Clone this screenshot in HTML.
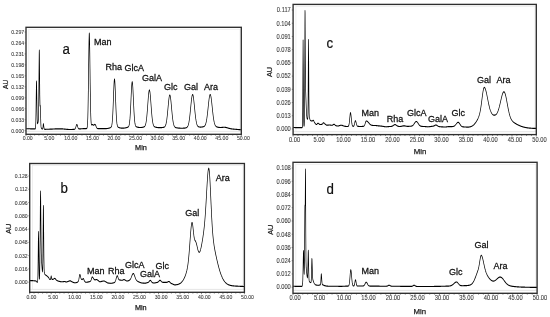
<!DOCTYPE html>
<html><head><meta charset="utf-8"><style>
html,body{margin:0;padding:0;background:#fff;}
body{width:550px;height:317px;overflow:hidden;}
svg{display:block;font-family:"Liberation Sans", sans-serif;filter:grayscale(1);}
</style></head><body>
<svg width="550" height="317" viewBox="0 0 550 317">
<rect width="550" height="317" fill="#fff"/>
<rect x="28.80" y="29.30" width="211.20" height="102.10" fill="none" stroke="#ebebeb" stroke-width="0.8"/>
<line x1="26.00" y1="131.40" x2="241.30" y2="131.40" stroke="#e4e4e4" stroke-width="0.8"/>
<g transform="scale(0.600 1)"><polyline points="43.33,128.70 43.67,128.70 44.00,128.71 44.33,128.71 44.67,128.72 45.00,128.72 45.33,128.73 45.67,128.73 46.00,128.73 46.33,128.74 46.67,128.74 47.00,128.75 47.33,128.75 47.67,128.76 48.00,128.76 48.33,128.77 48.67,128.77 49.00,128.78 49.33,128.78 49.67,128.79 50.00,128.79 50.33,128.80 50.67,128.80 51.00,128.81 51.33,128.81 51.67,128.82 52.00,128.82 52.33,128.83 52.67,128.83 53.00,128.84 53.33,128.84 53.67,128.85 54.00,128.85 54.33,128.86 54.67,128.87 55.00,128.87 55.33,128.88 55.67,128.88 56.00,128.89 56.33,128.89 56.67,128.90 57.00,128.91 57.33,128.91 57.67,128.91 58.00,128.92 58.33,128.91 58.67,128.85 59.00,128.54 59.33,127.10 59.67,122.39 60.00,111.70 60.33,95.92 60.67,83.07 60.83,81.00 61.00,82.64 61.33,94.62 61.67,109.51 62.00,119.28 62.33,123.08 62.67,123.63 63.00,123.16 63.33,122.53 63.67,121.69 64.00,119.40 64.33,112.24 64.67,95.94 65.00,71.90 65.33,52.71 65.50,50.00 65.67,53.15 66.00,72.93 66.33,95.60 66.67,105.89 67.00,105.26 67.17,105.50 67.33,107.52 67.67,115.02 68.00,122.43 68.33,126.38 68.67,127.77 69.00,128.25 69.33,128.51 69.67,128.70 70.00,128.85 70.33,128.97 70.67,129.04 71.00,128.97 71.33,128.42 71.67,126.93 72.00,124.79 72.33,123.70 72.67,124.55 73.00,126.39 73.33,128.01 73.67,128.88 74.00,129.20 74.33,129.28 74.67,129.30 75.00,129.30 75.33,129.30 75.67,129.30 76.00,129.30 76.33,129.30 76.67,129.29 77.00,129.29 77.33,129.29 77.67,129.28 78.00,129.28 78.33,129.28 78.67,129.27 79.00,129.27 79.33,129.26 79.67,129.25 80.00,129.25 80.33,129.24 80.67,129.23 81.00,129.23 81.33,129.22 81.67,129.21 82.00,129.20 82.33,129.20 82.67,129.19 83.00,129.18 83.33,129.17 83.67,129.16 84.00,129.15 84.33,129.14 84.67,129.13 85.00,129.12 85.33,129.11 85.67,129.10 86.00,129.09 86.33,129.08 86.67,129.07 87.00,129.06 87.33,129.05 87.67,129.05 88.00,129.04 88.33,129.03 88.67,129.02 89.00,129.01 89.33,129.00 89.67,128.99 90.00,128.98 90.33,128.97 90.67,128.96 91.00,128.95 91.33,128.94 91.67,128.93 92.00,128.92 92.33,128.91 92.67,128.90 93.00,128.90 93.33,128.89 93.67,128.88 94.00,128.87 94.33,128.87 94.67,128.86 95.00,128.85 95.33,128.85 95.67,128.84 96.00,128.83 96.33,128.83 96.67,128.82 97.00,128.82 97.33,128.82 97.67,128.81 98.00,128.81 98.33,128.81 98.67,128.80 99.00,128.80 99.33,128.80 99.67,128.80 100.00,128.80 100.33,128.80 100.67,128.80 101.00,128.81 101.33,128.81 101.67,128.82 102.00,128.83 102.33,128.84 102.67,128.85 103.00,128.86 103.33,128.87 103.67,128.89 104.00,128.90 104.33,128.92 104.67,128.93 105.00,128.95 105.33,128.97 105.67,128.99 106.00,129.01 106.33,129.03 106.67,129.05 107.00,129.07 107.33,129.09 107.67,129.11 108.00,129.13 108.33,129.15 108.67,129.17 109.00,129.19 109.33,129.21 109.67,129.23 110.00,129.25 110.33,129.27 110.67,129.29 111.00,129.31 111.33,129.33 111.67,129.35 112.00,129.37 112.33,129.38 112.67,129.40 113.00,129.41 113.33,129.43 113.67,129.44 114.00,129.45 114.33,129.46 114.67,129.47 115.00,129.48 115.33,129.49 115.67,129.49 116.00,129.50 116.33,129.50 116.67,129.50 117.00,129.50 117.33,129.50 117.67,129.50 118.00,129.49 118.33,129.49 118.67,129.49 119.00,129.48 119.33,129.47 119.67,129.47 120.00,129.46 120.33,129.45 120.67,129.45 121.00,129.44 121.33,129.43 121.67,129.42 122.00,129.41 122.33,129.39 122.67,129.38 123.00,129.37 123.33,129.35 123.67,129.32 124.00,129.28 124.33,129.21 124.67,129.10 125.00,128.92 125.33,128.65 125.67,128.26 126.00,127.74 126.33,127.10 126.67,126.39 127.00,125.69 127.33,125.08 127.67,124.66 128.00,124.50 128.33,124.63 128.67,125.01 129.00,125.59 129.33,126.26 129.67,126.94 130.00,127.54 130.33,128.03 130.67,128.39 131.00,128.63 131.33,128.78 131.67,128.86 132.00,128.90 132.33,128.91 132.67,128.91 133.00,128.90 133.33,128.88 133.67,128.87 134.00,128.85 134.33,128.84 134.67,128.82 135.00,128.81 135.33,128.79 135.67,128.78 136.00,128.77 136.33,128.75 136.67,128.74 137.00,128.73 137.33,128.72 137.67,128.70 138.00,128.69 138.33,128.68 138.67,128.67 139.00,128.66 139.33,128.65 139.67,128.65 140.00,128.64 140.33,128.63 140.67,128.63 141.00,128.62 141.33,128.61 141.67,128.61 142.00,128.61 142.33,128.60 142.67,128.60 143.00,128.60 143.33,128.60 143.67,128.59 144.00,128.57 144.33,128.52 144.67,128.37 145.00,128.02 145.33,127.25 145.67,125.67 146.00,122.72 146.33,117.70 146.67,109.89 147.00,98.86 147.33,84.86 147.67,69.04 148.00,53.51 148.33,40.98 148.67,33.93 148.83,33.00 149.00,33.90 149.33,40.88 149.67,53.33 150.00,68.72 150.33,84.37 150.67,98.14 151.00,108.86 151.33,116.31 151.67,120.91 152.00,123.39 152.33,124.50 152.67,124.84 153.00,124.81 153.33,124.68 153.67,124.57 154.00,124.54 154.33,124.60 154.67,124.73 155.00,124.88 155.33,125.02 155.67,125.12 156.00,125.14 156.33,125.09 156.67,124.98 157.00,124.82 157.33,124.65 157.67,124.51 158.00,124.43 158.33,124.42 158.67,124.54 159.00,124.80 159.33,125.18 159.67,125.64 160.00,126.15 160.33,126.65 160.67,127.12 161.00,127.53 161.33,127.87 161.67,128.13 162.00,128.32 162.33,128.46 162.67,128.55 163.00,128.61 163.33,128.65 163.67,128.67 164.00,128.68 164.33,128.69 164.67,128.69 165.00,128.69 165.33,128.69 165.67,128.69 166.00,128.69 166.33,128.69 166.67,128.69 167.00,128.68 167.33,128.68 167.67,128.68 168.00,128.68 168.33,128.68 168.67,128.68 169.00,128.68 169.33,128.68 169.67,128.67 170.00,128.67 170.33,128.67 170.67,128.67 171.00,128.67 171.33,128.67 171.67,128.66 172.00,128.66 172.33,128.66 172.67,128.66 173.00,128.66 173.33,128.65 173.67,128.65 174.00,128.65 174.33,128.64 174.67,128.64 175.00,128.63 175.33,128.63 175.67,128.62 176.00,128.61 176.33,128.61 176.67,128.60 177.00,128.58 177.33,128.57 177.67,128.56 178.00,128.54 178.33,128.52 178.67,128.50 179.00,128.47 179.33,128.45 179.67,128.42 180.00,128.38 180.33,128.34 180.67,128.30 181.00,128.25 181.33,128.20 181.67,128.14 182.00,128.08 182.33,128.02 182.67,127.94 183.00,127.87 183.33,127.78 183.67,127.69 184.00,127.59 184.33,127.47 184.67,127.33 185.00,127.14 185.33,126.88 185.67,126.51 186.00,125.97 186.33,125.18 186.67,124.04 187.00,122.43 187.33,120.24 187.67,117.37 188.00,113.75 188.33,109.40 188.67,104.42 189.00,99.05 189.33,93.59 189.67,88.45 190.00,84.09 190.33,80.90 190.67,79.22 190.83,79.00 191.00,79.21 191.33,80.89 191.67,84.06 192.00,88.42 192.33,93.54 192.67,98.99 193.00,104.36 193.33,109.32 193.67,113.66 194.00,117.27 194.33,120.14 194.67,122.32 195.00,123.92 195.33,125.05 195.67,125.83 196.00,126.36 196.33,126.72 196.67,126.97 197.00,127.14 197.33,127.28 197.67,127.39 198.00,127.48 198.33,127.56 198.67,127.64 199.00,127.71 199.33,127.77 199.67,127.83 200.00,127.88 200.33,127.93 200.67,127.97 201.00,128.01 201.33,128.04 201.67,128.07 202.00,128.09 202.33,128.11 202.67,128.13 203.00,128.14 203.33,128.15 203.67,128.15 204.00,128.16 204.33,128.16 204.67,128.15 205.00,128.15 205.33,128.14 205.67,128.13 206.00,128.12 206.33,128.10 206.67,128.08 207.00,128.06 207.33,128.04 207.67,128.01 208.00,127.98 208.33,127.95 208.67,127.92 209.00,127.88 209.33,127.84 209.67,127.80 210.00,127.75 210.33,127.70 210.67,127.65 211.00,127.60 211.33,127.54 211.67,127.47 212.00,127.41 212.33,127.33 212.67,127.25 213.00,127.15 213.33,127.04 213.67,126.89 214.00,126.69 214.33,126.42 214.67,126.03 215.00,125.49 215.33,124.74 215.67,123.70 216.00,122.30 216.33,120.47 216.67,118.15 217.00,115.29 217.33,111.90 217.67,108.02 218.00,103.75 218.33,99.27 218.67,94.80 219.00,90.60 219.33,86.95 219.67,84.12 220.00,82.32 220.33,81.70 220.67,82.31 221.00,84.09 221.33,86.91 221.67,90.54 222.00,94.73 222.33,99.19 222.67,103.66 223.00,107.91 223.33,111.78 223.67,115.16 224.00,118.00 224.33,120.31 224.67,122.13 225.00,123.51 225.33,124.54 225.67,125.28 226.00,125.81 226.33,126.18 226.67,126.44 227.00,126.62 227.33,126.76 227.67,126.86 228.00,126.95 228.33,127.02 228.67,127.08 229.00,127.13 229.33,127.18 229.67,127.23 230.00,127.27 230.33,127.31 230.67,127.35 231.00,127.38 231.33,127.41 231.67,127.43 232.00,127.45 232.33,127.47 232.67,127.49 233.00,127.50 233.33,127.51 233.67,127.51 234.00,127.51 234.33,127.51 234.67,127.50 235.00,127.49 235.33,127.48 235.67,127.47 236.00,127.45 236.33,127.42 236.67,127.40 237.00,127.37 237.33,127.34 237.67,127.30 238.00,127.26 238.33,127.21 238.67,127.16 239.00,127.11 239.33,127.04 239.67,126.96 240.00,126.87 240.33,126.75 240.67,126.61 241.00,126.43 241.33,126.19 241.67,125.89 242.00,125.50 242.33,125.01 242.67,124.39 243.00,123.62 243.33,122.66 243.67,121.50 244.00,120.12 244.33,118.49 244.67,116.62 245.00,114.51 245.33,112.17 245.67,109.64 246.00,106.98 246.33,104.24 246.67,101.51 247.00,98.86 247.33,96.41 247.67,94.25 248.00,92.45 248.33,91.11 248.67,90.28 249.00,90.00 249.33,90.28 249.67,91.11 250.00,92.45 250.33,94.25 250.67,96.41 251.00,98.86 251.33,101.51 251.67,104.24 252.00,106.98 252.33,109.64 252.67,112.17 253.00,114.51 253.33,116.62 253.67,118.49 254.00,120.12 254.33,121.50 254.67,122.66 255.00,123.62 255.33,124.39 255.67,125.01 256.00,125.51 256.33,125.89 256.67,126.19 257.00,126.43 257.33,126.61 257.67,126.76 258.00,126.87 258.33,126.97 258.67,127.05 259.00,127.12 259.33,127.18 259.67,127.23 260.00,127.28 260.33,127.32 260.67,127.36 261.00,127.40 261.33,127.43 261.67,127.46 262.00,127.49 262.33,127.52 262.67,127.54 263.00,127.56 263.33,127.58 263.67,127.60 264.00,127.62 264.33,127.63 264.67,127.64 265.00,127.65 265.33,127.66 265.67,127.66 266.00,127.66 266.33,127.67 266.67,127.67 267.00,127.66 267.33,127.66 267.67,127.65 268.00,127.65 268.33,127.64 268.67,127.63 269.00,127.62 269.33,127.60 269.67,127.59 270.00,127.57 270.33,127.55 270.67,127.53 271.00,127.50 271.33,127.48 271.67,127.44 272.00,127.41 272.33,127.36 272.67,127.31 273.00,127.25 273.33,127.18 273.67,127.08 274.00,126.97 274.33,126.82 274.67,126.63 275.00,126.39 275.33,126.09 275.67,125.71 276.00,125.23 276.33,124.65 276.67,123.94 277.00,123.08 277.33,122.07 277.67,120.88 278.00,119.52 278.33,117.97 278.67,116.25 279.00,114.36 279.33,112.34 279.67,110.21 280.00,108.02 280.33,105.82 280.67,103.67 281.00,101.63 281.33,99.76 281.67,98.13 282.00,96.80 282.33,95.81 282.67,95.20 283.00,95.00 283.33,95.21 283.67,95.83 284.00,96.83 284.33,98.18 284.67,99.82 285.00,101.69 285.33,103.75 285.67,105.91 286.00,108.13 286.33,110.33 286.67,112.47 287.00,114.50 287.33,116.40 287.67,118.13 288.00,119.69 288.33,121.06 288.67,122.26 289.00,123.28 289.33,124.15 289.67,124.87 290.00,125.46 290.33,125.95 290.67,126.34 291.00,126.65 291.33,126.90 291.67,127.10 292.00,127.26 292.33,127.38 292.67,127.49 293.00,127.57 293.33,127.64 293.67,127.70 294.00,127.75 294.33,127.80 294.67,127.84 295.00,127.87 295.33,127.91 295.67,127.94 296.00,127.97 296.33,127.99 296.67,128.02 297.00,128.04 297.33,128.06 297.67,128.08 298.00,128.10 298.33,128.12 298.67,128.13 299.00,128.15 299.33,128.16 299.67,128.17 300.00,128.18 300.33,128.19 300.67,128.20 301.00,128.20 301.33,128.21 301.67,128.21 302.00,128.22 302.33,128.22 302.67,128.22 303.00,128.22 303.33,128.22 303.67,128.22 304.00,128.22 304.33,128.21 304.67,128.21 305.00,128.20 305.33,128.19 305.67,128.18 306.00,128.17 306.33,128.16 306.67,128.15 307.00,128.13 307.33,128.11 307.67,128.09 308.00,128.07 308.33,128.04 308.67,128.01 309.00,127.98 309.33,127.94 309.67,127.89 310.00,127.83 310.33,127.76 310.67,127.68 311.00,127.57 311.33,127.45 311.67,127.29 312.00,127.09 312.33,126.85 312.67,126.56 313.00,126.19 313.33,125.75 313.67,125.21 314.00,124.57 314.33,123.81 314.67,122.91 315.00,121.87 315.33,120.68 315.67,119.33 316.00,117.83 316.33,116.17 316.67,114.38 317.00,112.47 317.33,110.47 317.67,108.40 318.00,106.32 318.33,104.26 318.67,102.28 319.00,100.43 319.33,98.75 319.67,97.30 320.00,96.11 320.33,95.24 320.67,94.69 321.00,94.50 321.33,94.66 321.67,95.18 322.00,96.03 322.33,97.18 322.67,98.60 323.00,100.25 323.33,102.08 323.67,104.03 324.00,106.06 324.33,108.11 324.67,110.15 325.00,112.13 325.33,114.01 325.67,115.78 326.00,117.40 326.33,118.88 326.67,120.20 327.00,121.37 327.33,122.38 327.67,123.25 328.00,123.99 328.33,124.61 328.67,125.12 329.00,125.54 329.33,125.88 329.67,126.15 330.00,126.37 330.33,126.54 330.67,126.67 331.00,126.78 331.33,126.86 331.67,126.92 332.00,126.97 332.33,127.00 332.67,127.03 333.00,127.05 333.33,127.06 333.67,127.07 334.00,127.08 334.33,127.08 334.67,127.07 335.00,127.07 335.33,127.06 335.67,127.04 336.00,127.03 336.33,127.01 336.67,126.99 337.00,126.96 337.33,126.93 337.67,126.90 338.00,126.86 338.33,126.81 338.67,126.76 339.00,126.70 339.33,126.62 339.67,126.53 340.00,126.43 340.33,126.30 340.67,126.14 341.00,125.94 341.33,125.70 341.67,125.41 342.00,125.06 342.33,124.64 342.67,124.13 343.00,123.52 343.33,122.82 343.67,121.99 344.00,121.04 344.33,119.95 344.67,118.73 345.00,117.37 345.33,115.87 345.67,114.25 346.00,112.52 346.33,110.70 346.67,108.82 347.00,106.90 347.33,104.99 347.67,103.12 348.00,101.33 348.33,99.67 348.67,98.18 349.00,96.90 349.33,95.87 349.67,95.11 350.00,94.65 350.33,94.50 350.67,94.67 351.00,95.14 351.33,95.91 351.67,96.96 352.00,98.25 352.33,99.75 352.67,101.42 353.00,103.21 353.33,105.09 353.67,107.01 354.00,108.94 354.33,110.83 354.67,112.65 355.00,114.39 355.33,116.01 355.67,117.51 356.00,118.87 356.33,120.10 356.67,121.19 357.00,122.15 357.33,122.98 357.67,123.69 358.00,124.30 358.33,124.81 358.67,125.24 359.00,125.60 359.33,125.90 359.67,126.14 360.00,126.35 360.33,126.51 360.67,126.65 361.00,126.77 361.33,126.87 361.67,126.95 362.00,127.02 362.33,127.09 362.67,127.14 363.00,127.19 363.33,127.24 363.67,127.28 364.00,127.31 364.33,127.34 364.67,127.37 365.00,127.40 365.33,127.42 365.67,127.44 366.00,127.45 366.33,127.47 366.67,127.48 367.00,127.48 367.33,127.48 367.67,127.48 368.00,127.48 368.33,127.47 368.67,127.46 369.00,127.45 369.33,127.44 369.67,127.42 370.00,127.40 370.33,127.38 370.67,127.37 371.00,127.35 371.33,127.33 371.67,127.31 372.00,127.30 372.33,127.28 372.67,127.27 373.00,127.27 373.33,127.26 373.67,127.26 374.00,127.27 374.33,127.27 374.67,127.29 375.00,127.30 375.33,127.33 375.67,127.35 376.00,127.39 376.33,127.42 376.67,127.46 377.00,127.51 377.33,127.56 377.67,127.61 378.00,127.66 378.33,127.72 378.67,127.78 379.00,127.84 379.33,127.90 379.67,127.97 380.00,128.03 380.33,128.09 380.67,128.15 381.00,128.21 381.33,128.27 381.67,128.33 382.00,128.39 382.33,128.44 382.67,128.50 383.00,128.54 383.33,128.59 383.67,128.64 384.00,128.68 384.33,128.72 384.67,128.76 385.00,128.79 385.33,128.83 385.67,128.86 386.00,128.89 386.33,128.92 386.67,128.95 387.00,128.97 387.33,129.00 387.67,129.02 388.00,129.04 388.33,129.06 388.67,129.08 389.00,129.10 389.33,129.12 389.67,129.14 390.00,129.16 390.33,129.18 390.67,129.20 391.00,129.21 391.33,129.23 391.67,129.25 392.00,129.27 392.33,129.28 392.67,129.30 393.00,129.32 393.33,129.33 393.67,129.35 394.00,129.37 394.33,129.39 394.67,129.40 395.00,129.42 395.33,129.44 395.67,129.45 396.00,129.47 396.33,129.49 396.67,129.51 397.00,129.52 397.33,129.54 397.67,129.56 398.00,129.58 398.33,129.59 398.67,129.61 399.00,129.63 399.33,129.65 399.67,129.67 400.00,129.68 400.33,129.70 400.67,129.72 401.00,129.74 401.33,129.76 401.67,129.77 402.00,129.79" fill="none" stroke="#000" stroke-width="1.15" stroke-linejoin="round"/></g>
<path d="M25.70 32.00h-1.0M25.70 42.97h-1.0M25.70 53.93h-1.0M25.70 64.90h-1.0M25.70 75.87h-1.0M25.70 86.83h-1.0M25.70 97.80h-1.0M25.70 108.77h-1.0M25.70 119.73h-1.0M25.70 130.70h-1.0M26.00 134.60v1.6M30.31 134.60v1.0M34.61 134.60v1.0M38.92 134.60v1.0M43.22 134.60v1.0M47.53 134.60v1.6M51.84 134.60v1.0M56.14 134.60v1.0M60.45 134.60v1.0M64.75 134.60v1.0M69.06 134.60v1.6M73.37 134.60v1.0M77.67 134.60v1.0M81.98 134.60v1.0M86.28 134.60v1.0M90.59 134.60v1.6M94.90 134.60v1.0M99.20 134.60v1.0M103.51 134.60v1.0M107.81 134.60v1.0M112.12 134.60v1.6M116.43 134.60v1.0M120.73 134.60v1.0M125.04 134.60v1.0M129.34 134.60v1.0M133.65 134.60v1.6M137.96 134.60v1.0M142.26 134.60v1.0M146.57 134.60v1.0M150.87 134.60v1.0M155.18 134.60v1.6M159.49 134.60v1.0M163.79 134.60v1.0M168.10 134.60v1.0M172.40 134.60v1.0M176.71 134.60v1.6M181.02 134.60v1.0M185.32 134.60v1.0M189.63 134.60v1.0M193.93 134.60v1.0M198.24 134.60v1.6M202.55 134.60v1.0M206.85 134.60v1.0M211.16 134.60v1.0M215.46 134.60v1.0M219.77 134.60v1.6M224.08 134.60v1.0M228.38 134.60v1.0M232.69 134.60v1.0M236.99 134.60v1.0M241.30 134.60v1.6" stroke="#555" stroke-width="0.7" fill="none"/>
<rect x="26.00" y="27.30" width="215.30" height="107.00" fill="none" stroke="#2e2e2e" stroke-width="1.35"/>
<text transform="translate(24.20 34.06) scale(1 1.1)" font-size="5.20" text-anchor="end" fill="#404040" stroke="#404040" stroke-width="0.08">0.297</text>
<text transform="translate(24.20 45.03) scale(1 1.1)" font-size="5.20" text-anchor="end" fill="#404040" stroke="#404040" stroke-width="0.08">0.264</text>
<text transform="translate(24.20 55.99) scale(1 1.1)" font-size="5.20" text-anchor="end" fill="#404040" stroke="#404040" stroke-width="0.08">0.231</text>
<text transform="translate(24.20 66.96) scale(1 1.1)" font-size="5.20" text-anchor="end" fill="#404040" stroke="#404040" stroke-width="0.08">0.198</text>
<text transform="translate(24.20 77.93) scale(1 1.1)" font-size="5.20" text-anchor="end" fill="#404040" stroke="#404040" stroke-width="0.08">0.165</text>
<text transform="translate(24.20 88.89) scale(1 1.1)" font-size="5.20" text-anchor="end" fill="#404040" stroke="#404040" stroke-width="0.08">0.132</text>
<text transform="translate(24.20 99.86) scale(1 1.1)" font-size="5.20" text-anchor="end" fill="#404040" stroke="#404040" stroke-width="0.08">0.099</text>
<text transform="translate(24.20 110.83) scale(1 1.1)" font-size="5.20" text-anchor="end" fill="#404040" stroke="#404040" stroke-width="0.08">0.066</text>
<text transform="translate(24.20 121.79) scale(1 1.1)" font-size="5.20" text-anchor="end" fill="#404040" stroke="#404040" stroke-width="0.08">0.033</text>
<text transform="translate(24.20 132.76) scale(1 1.1)" font-size="5.20" text-anchor="end" fill="#404040" stroke="#404040" stroke-width="0.08">0.000</text>
<text transform="translate(27.70 140.26) scale(1 1.1)" font-size="5.20" text-anchor="middle" fill="#404040" stroke="#404040" stroke-width="0.08">0.00</text>
<text transform="translate(49.27 140.26) scale(1 1.1)" font-size="5.20" text-anchor="middle" fill="#404040" stroke="#404040" stroke-width="0.08">5.00</text>
<text transform="translate(70.84 140.26) scale(1 1.1)" font-size="5.20" text-anchor="middle" fill="#404040" stroke="#404040" stroke-width="0.08">10.00</text>
<text transform="translate(92.41 140.26) scale(1 1.1)" font-size="5.20" text-anchor="middle" fill="#404040" stroke="#404040" stroke-width="0.08">15.00</text>
<text transform="translate(113.98 140.26) scale(1 1.1)" font-size="5.20" text-anchor="middle" fill="#404040" stroke="#404040" stroke-width="0.08">20.00</text>
<text transform="translate(135.55 140.26) scale(1 1.1)" font-size="5.20" text-anchor="middle" fill="#404040" stroke="#404040" stroke-width="0.08">25.00</text>
<text transform="translate(157.12 140.26) scale(1 1.1)" font-size="5.20" text-anchor="middle" fill="#404040" stroke="#404040" stroke-width="0.08">30.00</text>
<text transform="translate(178.69 140.26) scale(1 1.1)" font-size="5.20" text-anchor="middle" fill="#404040" stroke="#404040" stroke-width="0.08">35.00</text>
<text transform="translate(200.26 140.26) scale(1 1.1)" font-size="5.20" text-anchor="middle" fill="#404040" stroke="#404040" stroke-width="0.08">40.00</text>
<text transform="translate(221.83 140.26) scale(1 1.1)" font-size="5.20" text-anchor="middle" fill="#404040" stroke="#404040" stroke-width="0.08">45.00</text>
<text transform="translate(243.40 140.26) scale(1 1.1)" font-size="5.20" text-anchor="middle" fill="#404040" stroke="#404040" stroke-width="0.08">50.00</text>
<text x="141.00" y="150.00" font-size="7.30" text-anchor="middle" fill="#1a1a1a" stroke="#1a1a1a" stroke-width="0.25">Min</text>
<text transform="translate(8.00 84.40) rotate(-90)" font-size="6.60" text-anchor="middle" fill="#1a1a1a" stroke="#1a1a1a" stroke-width="0.2">AU</text>
<text transform="translate(62.50 53.60) scale(0.95 1.03)" font-size="14" fill="#111" stroke="#111" stroke-width="0.2">a</text>
<text x="94.00" y="45.00" font-size="9" fill="#111" stroke="#111" stroke-width="0.26">Man</text>
<text x="105.50" y="69.80" font-size="9" fill="#111" stroke="#111" stroke-width="0.26">Rha</text>
<text x="124.50" y="70.80" font-size="9" fill="#111" stroke="#111" stroke-width="0.26">GlcA</text>
<text x="142.00" y="80.80" font-size="9" fill="#111" stroke="#111" stroke-width="0.26">GalA</text>
<text x="164.00" y="89.80" font-size="9" fill="#111" stroke="#111" stroke-width="0.26">Glc</text>
<text x="184.00" y="90.20" font-size="9" fill="#111" stroke="#111" stroke-width="0.26">Gal</text>
<text x="204.00" y="90.20" font-size="9" fill="#111" stroke="#111" stroke-width="0.26">Ara</text>
<rect x="32.50" y="165.50" width="210.60" height="123.90" fill="none" stroke="#ebebeb" stroke-width="0.8"/>
<line x1="29.70" y1="289.40" x2="244.40" y2="289.40" stroke="#e4e4e4" stroke-width="0.8"/>
<g transform="scale(0.600 1)"><polyline points="49.50,280.60 49.83,280.60 50.17,280.60 50.50,280.60 50.83,280.60 51.17,280.61 51.50,280.61 51.83,280.62 52.17,280.62 52.50,280.63 52.83,280.63 53.17,280.64 53.50,280.65 53.83,280.66 54.17,280.67 54.50,280.68 54.83,280.69 55.17,280.70 55.50,280.71 55.83,280.73 56.17,280.74 56.50,280.76 56.83,280.78 57.17,280.80 57.50,280.82 57.83,280.84 58.17,280.86 58.50,280.88 58.83,280.91 59.17,280.93 59.50,280.96 59.83,280.99 60.17,281.03 60.50,281.17 60.83,281.40 61.17,281.66 61.50,281.93 61.83,282.16 62.17,282.32 62.50,282.21 62.83,280.93 63.17,275.46 63.50,261.47 63.83,241.73 64.17,231.50 64.50,241.23 64.83,260.51 65.17,274.07 65.50,278.95 65.83,278.73 66.17,273.91 66.50,260.66 66.83,236.16 67.17,207.35 67.50,191.00 67.83,197.59 68.17,219.39 68.33,231.01 68.50,240.92 68.83,253.73 69.17,259.90 69.50,263.47 69.83,266.35 70.17,268.89 70.50,270.92 70.83,271.80 71.17,269.03 71.50,256.94 71.83,232.64 72.17,209.32 72.33,205.50 72.50,209.03 72.83,231.87 73.17,256.02 73.50,268.55 73.83,272.50 74.17,273.54 74.50,274.02 74.83,274.37 75.17,274.60 75.50,274.78 75.83,274.95 76.17,275.09 76.50,275.23 76.83,275.36 77.17,275.49 77.50,275.62 77.83,275.76 78.17,275.92 78.50,276.09 78.83,276.27 79.17,276.45 79.50,276.65 79.83,276.85 80.17,277.06 80.50,277.28 80.83,277.50 81.17,277.77 81.50,278.10 81.83,278.45 82.17,278.80 82.50,279.11 82.83,279.35 83.17,279.48 83.50,279.50 83.83,279.46 84.17,279.26 84.50,278.62 84.83,277.38 85.17,276.19 85.33,276.00 85.50,276.18 85.83,277.34 86.17,278.56 86.50,279.18 86.83,279.35 87.17,279.37 87.50,279.36 87.83,279.34 88.17,279.31 88.50,279.28 88.83,279.20 89.17,279.09 89.50,278.96 89.83,278.81 90.17,278.68 90.50,278.55 90.83,278.46 91.17,278.41 91.50,278.41 91.83,278.52 92.17,278.71 92.50,278.96 92.83,279.24 93.17,279.53 93.50,279.80 93.83,280.03 94.17,280.20 94.50,280.32 94.83,280.44 95.17,280.55 95.50,280.66 95.83,280.76 96.17,280.85 96.50,280.94 96.83,281.02 97.17,281.09 97.50,281.16 97.83,281.22 98.17,281.27 98.50,281.32 98.83,281.37 99.17,281.42 99.50,281.47 99.83,281.52 100.17,281.56 100.50,281.60 100.83,281.64 101.17,281.68 101.50,281.71 101.83,281.74 102.17,281.76 102.50,281.78 102.83,281.79 103.17,281.80 103.50,281.80 103.83,281.79 104.17,281.78 104.50,281.76 104.83,281.74 105.17,281.71 105.50,281.68 105.83,281.65 106.17,281.62 106.50,281.59 106.83,281.56 107.17,281.54 107.50,281.52 107.83,281.51 108.17,281.50 108.50,281.51 108.83,281.61 109.17,281.75 109.50,281.89 109.83,281.99 110.17,282.00 110.50,281.98 110.83,281.95 111.17,281.91 111.50,281.85 111.83,281.79 112.17,281.73 112.50,281.66 112.83,281.59 113.17,281.53 113.50,281.47 113.83,281.39 114.17,281.31 114.50,281.22 114.83,281.12 115.17,281.03 115.50,280.95 115.83,280.88 116.17,280.83 116.50,280.80 116.83,280.81 117.17,280.85 117.50,280.92 117.83,281.02 118.17,281.13 118.50,281.26 118.83,281.40 119.17,281.53 119.50,281.65 119.83,281.76 120.17,281.84 120.50,281.93 120.83,282.01 121.17,282.10 121.50,282.19 121.83,282.28 122.17,282.37 122.50,282.45 122.83,282.53 123.17,282.60 123.50,282.66 123.83,282.71 124.17,282.75 124.50,282.78 124.83,282.80 125.17,282.80 125.50,282.79 125.83,282.77 126.17,282.74 126.50,282.70 126.83,282.66 127.17,282.61 127.50,282.55 127.83,282.49 128.17,282.43 128.50,282.36 128.83,282.26 129.17,282.12 129.50,281.96 129.83,281.78 130.17,281.56 130.50,281.28 130.83,280.83 131.17,280.15 131.50,279.18 131.83,277.96 132.17,276.62 132.50,275.43 132.83,274.66 133.00,274.50 133.17,274.48 133.50,274.78 133.83,275.44 134.17,276.29 134.50,277.17 134.83,277.93 135.17,278.52 135.50,278.93 135.83,279.20 136.17,279.39 136.50,279.52 136.83,279.56 137.17,279.45 137.50,279.27 137.83,279.04 138.17,278.83 138.50,278.66 138.83,278.60 139.17,278.74 139.50,279.11 139.83,279.62 140.17,280.16 140.50,280.65 140.83,281.00 141.17,281.25 141.50,281.49 141.83,281.72 142.17,281.93 142.50,282.10 142.83,282.22 143.17,282.29 143.50,282.30 143.83,282.29 144.17,282.27 144.50,282.25 144.83,282.21 145.17,282.18 145.50,282.14 145.83,282.10 146.17,282.06 146.50,282.02 146.83,281.98 147.17,281.94 147.50,281.90 147.83,281.85 148.17,281.81 148.50,281.76 148.83,281.70 149.17,281.65 149.50,281.59 149.83,281.52 150.17,281.43 150.50,281.31 150.83,281.13 151.17,280.87 151.50,280.50 151.83,280.01 152.17,279.41 152.50,278.73 152.83,278.05 153.17,277.48 153.50,277.10 153.67,277.00 153.83,276.96 154.17,277.00 154.50,277.18 154.83,277.47 155.17,277.81 155.50,278.17 155.83,278.51 156.17,278.81 156.50,279.05 156.83,279.26 157.17,279.45 157.50,279.63 157.83,279.77 158.17,279.86 158.50,279.88 158.83,279.85 159.17,279.79 159.50,279.72 159.83,279.64 160.17,279.57 160.50,279.52 160.83,279.50 161.17,279.53 161.50,279.61 161.83,279.72 162.17,279.87 162.50,280.02 162.83,280.18 163.17,280.33 163.50,280.47 163.83,280.62 164.17,280.80 164.50,280.98 164.83,281.17 165.17,281.35 165.50,281.51 165.83,281.64 166.17,281.74 166.50,281.79 166.83,281.80 167.17,281.78 167.50,281.74 167.83,281.69 168.17,281.63 168.50,281.56 168.83,281.50 169.17,281.43 169.50,281.37 169.83,281.32 170.17,281.28 170.50,281.24 170.83,281.20 171.17,281.16 171.50,281.12 171.83,281.09 172.17,281.05 172.50,281.03 172.83,281.01 173.17,281.00 173.50,281.00 173.83,281.04 174.17,281.11 174.50,281.20 174.83,281.31 175.17,281.44 175.50,281.57 175.83,281.70 176.17,281.83 176.50,281.95 176.83,282.05 177.17,282.16 177.50,282.28 177.83,282.40 178.17,282.52 178.50,282.64 178.83,282.75 179.17,282.84 179.50,282.92 179.83,282.98 180.17,283.02 180.50,283.05 180.83,283.08 181.17,283.11 181.50,283.14 181.83,283.17 182.17,283.19 182.50,283.22 182.83,283.24 183.17,283.25 183.50,283.27 183.83,283.28 184.17,283.29 184.50,283.30 184.83,283.30 185.17,283.30 185.50,283.29 185.83,283.27 186.17,283.25 186.50,283.22 186.83,283.19 187.17,283.15 187.50,283.10 187.83,283.05 188.17,283.00 188.50,282.95 188.83,282.89 189.17,282.83 189.50,282.77 189.83,282.71 190.17,282.63 190.50,282.53 190.83,282.39 191.17,282.21 191.50,281.98 191.83,281.67 192.17,281.28 192.50,280.80 192.83,280.22 193.17,279.56 193.50,278.83 193.83,278.09 194.17,277.36 194.50,276.72 194.83,276.22 195.17,275.89 195.33,275.80 195.50,275.78 195.83,275.96 196.17,276.40 196.50,277.01 196.83,277.67 197.17,278.30 197.50,278.84 197.83,279.25 198.17,279.54 198.50,279.73 198.83,279.85 199.17,279.92 199.50,279.97 199.83,280.00 200.17,280.04 200.50,280.07 200.83,280.10 201.17,280.14 201.50,280.18 201.83,280.21 202.17,280.24 202.50,280.27 202.83,280.29 203.17,280.30 203.50,280.29 203.83,280.26 204.17,280.19 204.50,280.10 204.83,280.00 205.17,279.90 205.50,279.80 205.83,279.71 206.17,279.64 206.50,279.61 206.83,279.60 207.17,279.64 207.50,279.70 207.83,279.79 208.17,279.90 208.50,280.03 208.83,280.16 209.17,280.30 209.50,280.44 209.83,280.57 210.17,280.70 210.50,280.81 210.83,280.90 211.17,280.96 211.50,280.99 211.83,280.99 212.17,280.98 212.50,280.95 212.83,280.92 213.17,280.87 213.50,280.81 213.83,280.75 214.17,280.67 214.50,280.59 214.83,280.49 215.17,280.38 215.50,280.26 215.83,280.11 216.17,279.95 216.50,279.76 216.83,279.54 217.17,279.28 217.50,278.97 217.83,278.61 218.17,278.20 218.50,277.75 218.83,277.27 219.17,276.75 219.50,276.22 219.83,275.69 220.17,275.18 220.50,274.71 220.83,274.29 221.17,273.95 221.50,273.70 221.83,273.54 222.17,273.50 222.50,273.57 222.83,273.77 223.17,274.08 223.50,274.49 223.83,274.98 224.17,275.52 224.50,276.10 224.83,276.69 225.17,277.27 225.50,277.82 225.83,278.33 226.17,278.80 226.50,279.21 226.83,279.57 227.17,279.89 227.50,280.17 227.83,280.42 228.17,280.64 228.50,280.83 228.83,281.00 229.17,281.16 229.50,281.30 229.83,281.43 230.17,281.56 230.50,281.67 230.83,281.77 231.17,281.87 231.50,281.96 231.83,282.03 232.17,282.11 232.50,282.19 232.83,282.27 233.17,282.35 233.50,282.44 233.83,282.52 234.17,282.59 234.50,282.67 234.83,282.74 235.17,282.80 235.50,282.86 235.83,282.91 236.17,282.95 236.50,282.99 236.83,283.01 237.17,283.03 237.50,283.05 237.83,283.07 238.17,283.09 238.50,283.11 238.83,283.13 239.17,283.14 239.50,283.16 239.83,283.17 240.17,283.18 240.50,283.19 240.83,283.19 241.17,283.20 241.50,283.20 241.83,283.20 242.17,283.18 242.50,283.16 242.83,283.12 243.17,283.07 243.50,283.02 243.83,282.96 244.17,282.90 244.50,282.84 244.83,282.78 245.17,282.72 245.50,282.66 245.83,282.60 246.17,282.54 246.50,282.47 246.83,282.40 247.17,282.29 247.50,282.15 247.83,281.97 248.17,281.76 248.50,281.51 248.83,281.24 249.17,280.98 249.50,280.74 249.83,280.55 250.17,280.43 250.50,280.40 250.83,280.46 251.17,280.60 251.50,280.82 251.83,281.08 252.17,281.37 252.50,281.65 252.83,281.92 253.17,282.16 253.50,282.36 253.83,282.52 254.17,282.65 254.50,282.75 254.83,282.83 255.17,282.89 255.50,282.93 255.83,282.96 256.17,282.98 256.50,283.00 256.83,283.00 257.17,282.99 257.50,282.96 257.83,282.94 258.17,282.90 258.50,282.86 258.83,282.81 259.17,282.76 259.50,282.71 259.83,282.67 260.17,282.62 260.50,282.58 260.83,282.54 261.17,282.50 261.50,282.46 261.83,282.43 262.17,282.39 262.50,282.32 262.83,282.24 263.17,282.13 263.50,281.99 263.83,281.82 264.17,281.62 264.50,281.39 264.83,281.16 265.17,280.92 265.50,280.70 265.83,280.52 266.17,280.38 266.50,280.31 266.67,280.30 266.83,280.31 267.17,280.37 267.50,280.50 267.83,280.68 268.17,280.89 268.50,281.12 268.83,281.35 269.17,281.57 269.50,281.76 269.83,281.93 270.17,282.06 270.50,282.16 270.83,282.24 271.17,282.30 271.50,282.33 271.83,282.36 272.17,282.38 272.50,282.39 272.83,282.39 273.17,282.40 273.50,282.40 273.83,282.40 274.17,282.40 274.50,282.40 274.83,282.40 275.17,282.40 275.50,282.40 275.83,282.40 276.17,282.39 276.50,282.39 276.83,282.38 277.17,282.37 277.50,282.36 277.83,282.33 278.17,282.30 278.50,282.25 278.83,282.18 279.17,282.09 279.50,281.98 279.83,281.86 280.17,281.73 280.50,281.62 280.83,281.53 281.17,281.48 281.50,281.48 281.67,281.50 281.83,281.53 282.17,281.64 282.50,281.80 282.83,282.00 283.17,282.22 283.50,282.44 283.83,282.67 284.17,282.87 284.50,283.06 284.83,283.22 285.17,283.35 285.50,283.47 285.83,283.57 286.17,283.65 286.50,283.73 286.83,283.80 287.17,283.87 287.50,283.96 287.83,284.05 288.17,284.15 288.50,284.26 288.83,284.36 289.17,284.46 289.50,284.55 289.83,284.64 290.17,284.72 290.50,284.78 290.83,284.83 291.17,284.86 291.50,284.87 291.83,284.86 292.17,284.84 292.50,284.83 292.83,284.81 293.17,284.78 293.50,284.76 293.83,284.73 294.17,284.70 294.50,284.67 294.83,284.64 295.17,284.60 295.50,284.56 295.83,284.51 296.17,284.46 296.50,284.41 296.83,284.35 297.17,284.29 297.50,284.22 297.83,284.15 298.17,284.06 298.50,283.98 298.83,283.88 299.17,283.78 299.50,283.67 299.83,283.56 300.17,283.43 300.50,283.30 300.83,283.15 301.17,283.00 301.50,282.83 301.83,282.66 302.17,282.47 302.50,282.27 302.83,282.06 303.17,281.84 303.50,281.60 303.83,281.35 304.17,281.08 304.50,280.80 304.83,280.50 305.17,280.19 305.50,279.87 305.83,279.52 306.17,279.16 306.50,278.78 306.83,278.39 307.17,277.97 307.50,277.54 307.83,277.09 308.17,276.61 308.50,276.12 308.83,275.60 309.17,275.06 309.50,274.48 309.83,273.88 310.17,273.24 310.50,272.56 310.83,271.83 311.17,271.05 311.50,270.20 311.83,269.27 312.17,268.25 312.50,267.14 312.83,265.90 313.17,264.54 313.50,263.04 313.83,261.38 314.17,259.56 314.50,257.58 314.83,255.43 315.17,253.11 315.50,250.66 315.83,248.07 316.17,245.39 316.50,242.65 316.83,239.89 317.17,237.17 317.50,234.52 317.83,232.02 318.17,229.72 318.50,227.65 318.83,225.88 319.17,224.43 319.50,223.33 319.68,222.90 319.83,222.62 320.17,222.47 320.50,222.87 320.83,223.76 321.17,225.07 321.50,226.68 321.83,228.49 322.17,230.38 322.50,232.26 322.83,234.04 323.17,235.66 323.50,237.06 323.83,238.23 324.17,239.15 324.50,239.83 324.83,240.28 325.06,240.48 325.17,240.56 325.50,240.81 325.83,241.12 326.17,241.50 326.50,241.97 326.83,242.53 327.17,243.17 327.50,243.90 327.83,244.69 328.17,245.53 328.50,246.39 328.83,247.27 329.17,248.13 329.50,248.95 329.83,249.71 330.17,250.40 330.50,251.00 330.83,251.49 331.17,251.87 331.50,252.13 331.83,252.27 332.17,252.28 332.50,252.16 332.83,251.93 333.17,251.57 333.50,251.11 333.83,250.55 334.17,249.89 334.50,249.15 334.83,248.32 335.17,247.43 335.50,246.49 335.83,245.48 336.17,244.43 336.50,243.34 336.83,242.21 337.17,241.05 337.50,239.84 337.83,238.60 338.17,237.32 338.50,235.98 338.83,234.59 339.17,233.13 339.50,231.59 339.83,229.96 340.17,228.21 340.50,226.33 340.83,224.31 341.17,222.14 341.50,219.78 341.83,217.25 342.17,214.53 342.50,211.62 342.83,208.53 343.17,205.28 343.50,201.89 343.83,198.39 344.17,194.82 344.50,191.24 344.83,187.71 345.00,185.98 345.17,184.28 345.50,181.02 345.83,177.98 346.17,175.24 346.50,172.87 346.83,170.94 347.17,169.50 347.50,168.60 347.83,168.27 348.06,168.38 348.17,168.53 348.50,169.45 348.83,171.06 349.17,173.29 349.50,176.11 349.83,179.43 350.17,183.16 350.50,187.22 350.83,191.51 351.17,195.94 351.50,200.40 351.83,204.83 352.17,209.15 352.50,213.29 352.83,217.22 353.17,220.91 353.50,224.32 353.83,227.46 354.17,230.33 354.50,232.94 354.83,235.30 355.17,237.43 355.50,239.36 355.83,241.11 356.17,242.71 356.50,244.17 356.83,245.53 357.17,246.80 357.50,247.99 357.83,249.12 358.17,250.21 358.50,251.26 358.83,252.27 359.17,253.27 359.50,254.24 359.83,255.19 360.17,256.13 360.50,257.05 360.83,257.96 361.17,258.86 361.50,259.74 361.83,260.62 362.17,261.47 362.50,262.32 362.83,263.15 363.17,263.97 363.50,264.77 363.83,265.55 364.17,266.32 364.50,267.07 364.83,267.81 365.17,268.52 365.50,269.23 365.83,269.91 366.17,270.58 366.50,271.22 366.83,271.85 367.17,272.46 367.50,273.06 367.83,273.63 368.17,274.19 368.50,274.73 368.83,275.25 369.17,275.76 369.50,276.25 369.83,276.72 370.17,277.17 370.50,277.61 370.83,278.03 371.17,278.43 371.50,278.82 371.83,279.19 372.17,279.55 372.50,279.89 372.83,280.22 373.17,280.53 373.50,280.83 373.83,281.12 374.17,281.39 374.50,281.65 374.83,281.90 375.17,282.14 375.50,282.36 375.83,282.58 376.17,282.78 376.50,282.97 376.83,283.16 377.17,283.33 377.50,283.50 377.83,283.66 378.17,283.80 378.50,283.94 378.83,284.08 379.17,284.20 379.50,284.32 379.83,284.43 380.17,284.54 380.50,284.64 380.83,284.73 381.17,284.82 381.50,284.90 381.83,284.98 382.17,285.06 382.50,285.13 382.83,285.19 383.17,285.25 383.50,285.31 383.83,285.36 384.17,285.41 384.50,285.46 384.83,285.51 385.17,285.55 385.50,285.59 385.83,285.63 386.17,285.66 386.50,285.69 386.83,285.72 387.17,285.75 387.50,285.78 387.83,285.81 388.17,285.83 388.50,285.85 388.83,285.88 389.17,285.90 389.50,285.92 389.83,285.94 390.17,285.95 390.50,285.97 390.83,285.99 391.17,286.00 391.50,286.02 391.83,286.03 392.17,286.05 392.50,286.06 392.83,286.07 393.17,286.09 393.50,286.10 393.83,286.11 394.17,286.12 394.50,286.13 394.83,286.15 395.17,286.16 395.50,286.17 395.83,286.18 396.17,286.19 396.50,286.20 396.83,286.21 397.17,286.22 397.50,286.23 397.83,286.24 398.17,286.25 398.50,286.26 398.83,286.27 399.17,286.28 399.50,286.29 399.83,286.30 400.17,286.31 400.50,286.32 400.83,286.33 401.17,286.33 401.50,286.34 401.83,286.35 402.17,286.36 402.50,286.37 402.83,286.38 403.17,286.39 403.50,286.40 403.83,286.41 404.17,286.42 404.50,286.43 404.83,286.44 405.17,286.45 405.50,286.45 405.83,286.46 406.17,286.47 406.50,286.48 406.83,286.49 407.17,286.50" fill="none" stroke="#000" stroke-width="1.15" stroke-linejoin="round"/></g>
<path d="M29.40 176.00h-1.0M29.40 189.28h-1.0M29.40 202.55h-1.0M29.40 215.82h-1.0M29.40 229.10h-1.0M29.40 242.38h-1.0M29.40 255.65h-1.0M29.40 268.92h-1.0M29.40 282.20h-1.0M29.70 292.60v1.6M33.99 292.60v1.0M38.29 292.60v1.0M42.58 292.60v1.0M46.88 292.60v1.0M51.17 292.60v1.6M55.46 292.60v1.0M59.76 292.60v1.0M64.05 292.60v1.0M68.35 292.60v1.0M72.64 292.60v1.6M76.93 292.60v1.0M81.23 292.60v1.0M85.52 292.60v1.0M89.82 292.60v1.0M94.11 292.60v1.6M98.40 292.60v1.0M102.70 292.60v1.0M106.99 292.60v1.0M111.29 292.60v1.0M115.58 292.60v1.6M119.87 292.60v1.0M124.17 292.60v1.0M128.46 292.60v1.0M132.76 292.60v1.0M137.05 292.60v1.6M141.34 292.60v1.0M145.64 292.60v1.0M149.93 292.60v1.0M154.23 292.60v1.0M158.52 292.60v1.6M162.81 292.60v1.0M167.11 292.60v1.0M171.40 292.60v1.0M175.70 292.60v1.0M179.99 292.60v1.6M184.28 292.60v1.0M188.58 292.60v1.0M192.87 292.60v1.0M197.17 292.60v1.0M201.46 292.60v1.6M205.75 292.60v1.0M210.05 292.60v1.0M214.34 292.60v1.0M218.64 292.60v1.0M222.93 292.60v1.6M227.22 292.60v1.0M231.52 292.60v1.0M235.81 292.60v1.0M240.11 292.60v1.0M244.40 292.60v1.6" stroke="#555" stroke-width="0.7" fill="none"/>
<rect x="29.70" y="163.50" width="214.70" height="128.80" fill="none" stroke="#2e2e2e" stroke-width="1.35"/>
<text transform="translate(27.60 178.02) scale(1 1.1)" font-size="5.10" text-anchor="end" fill="#404040" stroke="#404040" stroke-width="0.08">0.128</text>
<text transform="translate(27.60 191.29) scale(1 1.1)" font-size="5.10" text-anchor="end" fill="#404040" stroke="#404040" stroke-width="0.08">0.112</text>
<text transform="translate(27.60 204.57) scale(1 1.1)" font-size="5.10" text-anchor="end" fill="#404040" stroke="#404040" stroke-width="0.08">0.096</text>
<text transform="translate(27.60 217.84) scale(1 1.1)" font-size="5.10" text-anchor="end" fill="#404040" stroke="#404040" stroke-width="0.08">0.080</text>
<text transform="translate(27.60 231.12) scale(1 1.1)" font-size="5.10" text-anchor="end" fill="#404040" stroke="#404040" stroke-width="0.08">0.064</text>
<text transform="translate(27.60 244.39) scale(1 1.1)" font-size="5.10" text-anchor="end" fill="#404040" stroke="#404040" stroke-width="0.08">0.048</text>
<text transform="translate(27.60 257.67) scale(1 1.1)" font-size="5.10" text-anchor="end" fill="#404040" stroke="#404040" stroke-width="0.08">0.032</text>
<text transform="translate(27.60 270.94) scale(1 1.1)" font-size="5.10" text-anchor="end" fill="#404040" stroke="#404040" stroke-width="0.08">0.016</text>
<text transform="translate(27.60 284.22) scale(1 1.1)" font-size="5.10" text-anchor="end" fill="#404040" stroke="#404040" stroke-width="0.08">0.000</text>
<text transform="translate(31.50 298.82) scale(1 1.1)" font-size="5.10" text-anchor="middle" fill="#404040" stroke="#404040" stroke-width="0.08">0.00</text>
<text transform="translate(53.10 298.82) scale(1 1.1)" font-size="5.10" text-anchor="middle" fill="#404040" stroke="#404040" stroke-width="0.08">5.00</text>
<text transform="translate(74.70 298.82) scale(1 1.1)" font-size="5.10" text-anchor="middle" fill="#404040" stroke="#404040" stroke-width="0.08">10.00</text>
<text transform="translate(96.30 298.82) scale(1 1.1)" font-size="5.10" text-anchor="middle" fill="#404040" stroke="#404040" stroke-width="0.08">15.00</text>
<text transform="translate(117.90 298.82) scale(1 1.1)" font-size="5.10" text-anchor="middle" fill="#404040" stroke="#404040" stroke-width="0.08">20.00</text>
<text transform="translate(139.50 298.82) scale(1 1.1)" font-size="5.10" text-anchor="middle" fill="#404040" stroke="#404040" stroke-width="0.08">25.00</text>
<text transform="translate(161.10 298.82) scale(1 1.1)" font-size="5.10" text-anchor="middle" fill="#404040" stroke="#404040" stroke-width="0.08">30.00</text>
<text transform="translate(182.70 298.82) scale(1 1.1)" font-size="5.10" text-anchor="middle" fill="#404040" stroke="#404040" stroke-width="0.08">35.00</text>
<text transform="translate(204.30 298.82) scale(1 1.1)" font-size="5.10" text-anchor="middle" fill="#404040" stroke="#404040" stroke-width="0.08">40.00</text>
<text transform="translate(225.90 298.82) scale(1 1.1)" font-size="5.10" text-anchor="middle" fill="#404040" stroke="#404040" stroke-width="0.08">45.00</text>
<text transform="translate(247.50 298.82) scale(1 1.1)" font-size="5.10" text-anchor="middle" fill="#404040" stroke="#404040" stroke-width="0.08">50.00</text>
<text x="140.80" y="309.80" font-size="7.30" text-anchor="middle" fill="#1a1a1a" stroke="#1a1a1a" stroke-width="0.25">Min</text>
<text transform="translate(11.30 228.70) rotate(-90)" font-size="7.30" text-anchor="middle" fill="#1a1a1a" stroke="#1a1a1a" stroke-width="0.2">AU</text>
<text transform="translate(60.60 192.60) scale(0.95 1.03)" font-size="14" fill="#111" stroke="#111" stroke-width="0.2">b</text>
<text x="87.00" y="274.00" font-size="9" fill="#111" stroke="#111" stroke-width="0.26">Man</text>
<text x="108.00" y="274.00" font-size="9" fill="#111" stroke="#111" stroke-width="0.26">Rha</text>
<text x="125.00" y="268.30" font-size="9" fill="#111" stroke="#111" stroke-width="0.26">GlcA</text>
<text x="140.00" y="277.20" font-size="9" fill="#111" stroke="#111" stroke-width="0.26">GalA</text>
<text x="155.50" y="269.00" font-size="9" fill="#111" stroke="#111" stroke-width="0.26">Glc</text>
<text x="185.20" y="216.30" font-size="9" fill="#111" stroke="#111" stroke-width="0.26">Gal</text>
<text x="215.70" y="180.60" font-size="9" fill="#111" stroke="#111" stroke-width="0.26">Ara</text>
<rect x="295.90" y="6.40" width="239.10" height="125.30" fill="none" stroke="#ebebeb" stroke-width="0.8"/>
<line x1="293.10" y1="131.70" x2="536.30" y2="131.70" stroke="#e4e4e4" stroke-width="0.8"/>
<g transform="scale(0.600 1)"><polyline points="488.50,127.50 488.83,127.51 489.17,127.51 489.50,127.52 489.83,127.53 490.17,127.53 490.50,127.54 490.83,127.54 491.17,127.55 491.50,127.55 491.83,127.55 492.17,127.56 492.50,127.56 492.83,127.57 493.17,127.57 493.50,127.57 493.83,127.57 494.17,127.58 494.50,127.58 494.83,127.58 495.17,127.58 495.50,127.59 495.83,127.59 496.17,127.59 496.50,127.59 496.83,127.59 497.17,127.59 497.50,127.59 497.83,127.60 498.17,127.60 498.50,127.60 498.83,127.60 499.17,127.60 499.50,127.60 499.83,127.60 500.17,127.60 500.50,127.60 500.83,127.60 501.17,127.60 501.50,127.60 501.83,127.60 502.17,127.60 502.50,127.60 502.83,127.60 503.17,127.60 503.50,127.57 503.83,127.42 504.17,125.36 504.50,110.70 504.83,69.62 505.17,40.00 505.50,63.78 505.83,102.75 506.17,121.93 506.50,126.03 506.83,126.10 507.17,124.83 507.50,116.54 507.83,82.54 508.17,26.29 508.33,10.50 508.50,12.91 508.67,30.61 508.83,52.92 509.17,81.64 509.50,91.67 509.83,97.66 510.17,103.40 510.50,108.58 510.83,112.73 511.17,115.70 511.50,117.59 511.83,118.63 512.17,119.07 512.50,119.15 512.83,118.89 513.17,116.79 513.50,103.36 513.83,66.27 514.17,39.50 514.50,60.64 514.83,95.50 515.17,112.85 515.50,117.05 515.83,117.97 516.17,118.58 516.50,119.21 516.83,119.80 517.17,120.25 517.50,120.50 517.83,120.61 518.17,120.71 518.50,120.80 518.83,120.88 519.17,120.93 519.50,120.98 519.83,121.00 520.17,120.99 520.50,120.91 520.83,120.77 521.17,120.61 521.50,120.46 521.83,120.34 522.17,120.30 522.50,120.43 522.83,120.75 523.17,121.20 523.50,121.69 523.83,122.15 524.17,122.50 524.50,122.77 524.83,123.05 525.17,123.32 525.50,123.59 525.83,123.83 526.17,124.05 526.50,124.24 526.83,124.38 527.17,124.47 527.50,124.50 527.83,124.44 528.17,124.27 528.50,124.04 528.83,123.79 529.17,123.54 529.50,123.34 529.83,123.22 530.17,123.21 530.50,123.28 530.83,123.40 531.17,123.57 531.50,123.75 531.83,123.95 532.17,124.13 532.50,124.30 532.83,124.42 533.17,124.49 533.50,124.50 533.83,124.50 534.17,124.49 534.50,124.47 534.83,124.46 535.17,124.44 535.50,124.41 535.83,124.38 536.17,124.35 536.50,124.32 536.83,124.26 537.17,124.11 537.50,123.87 537.83,123.59 538.17,123.30 538.50,123.05 538.83,122.87 539.17,122.80 539.50,122.84 539.83,122.96 540.17,123.12 540.50,123.32 540.83,123.54 541.17,123.74 541.50,123.92 541.83,124.07 542.17,124.22 542.50,124.38 542.83,124.54 543.17,124.70 543.50,124.84 543.83,124.97 544.17,125.08 544.50,125.15 544.83,125.19 545.17,125.20 545.50,125.19 545.83,125.18 546.17,125.16 546.50,125.14 546.83,125.12 547.17,125.09 547.50,125.07 547.83,125.05 548.17,125.03 548.50,125.01 548.83,125.00 549.17,125.00 549.50,125.01 549.83,125.02 550.17,125.04 550.50,125.07 550.83,125.11 551.17,125.14 551.50,125.18 551.83,125.21 552.17,125.24 552.50,125.27 552.83,125.29 553.17,125.30 553.50,125.29 553.83,125.24 554.17,125.14 554.50,125.02 554.83,124.87 555.17,124.73 555.50,124.58 555.83,124.46 556.17,124.36 556.50,124.31 556.83,124.31 557.17,124.38 557.50,124.50 557.83,124.66 558.17,124.84 558.50,125.04 558.83,125.23 559.17,125.41 559.50,125.56 559.83,125.67 560.17,125.72 560.50,125.77 560.83,125.82 561.17,125.86 561.50,125.89 561.83,125.93 562.17,125.95 562.50,125.98 562.83,125.99 563.17,126.00 563.50,126.00 563.83,125.98 564.17,125.94 564.50,125.89 564.83,125.83 565.17,125.76 565.50,125.68 565.83,125.60 566.17,125.52 566.50,125.44 566.83,125.37 567.17,125.31 567.50,125.26 567.83,125.22 568.17,125.20 568.50,125.20 568.83,125.21 569.17,125.24 569.50,125.28 569.83,125.32 570.17,125.37 570.50,125.43 570.83,125.50 571.17,125.57 571.50,125.64 571.83,125.72 572.17,125.79 572.50,125.87 572.83,125.94 573.17,126.02 573.50,126.08 573.83,126.14 574.17,126.20 574.50,126.25 574.83,126.28 575.17,126.31 575.50,126.34 575.83,126.37 576.17,126.40 576.50,126.42 576.83,126.45 577.17,126.47 577.50,126.48 577.83,126.49 578.17,126.50 578.50,126.50 578.83,126.50 579.17,126.50 579.50,126.49 579.83,126.47 580.17,126.42 580.50,126.31 580.83,126.11 581.17,125.73 581.50,125.08 581.83,124.08 582.17,122.66 582.50,120.83 582.83,118.69 583.17,116.48 583.50,114.53 583.83,113.18 584.17,112.70 584.50,113.12 584.83,114.32 585.17,116.08 585.50,118.13 585.83,120.18 586.17,122.02 586.50,123.52 586.83,124.63 587.17,125.40 587.50,125.88 587.83,126.16 588.17,126.30 588.50,126.35 588.83,126.33 589.17,126.25 589.50,126.09 589.83,125.80 590.17,125.35 590.50,124.71 590.83,123.88 591.17,122.93 591.50,121.98 591.83,121.20 592.17,120.76 592.33,120.70 592.50,120.74 592.83,121.06 593.17,121.66 593.50,122.44 593.83,123.27 594.17,124.07 594.50,124.75 594.83,125.29 595.17,125.68 595.50,125.95 595.83,126.12 596.17,126.23 596.50,126.30 596.83,126.34 597.17,126.38 597.50,126.40 597.83,126.42 598.17,126.44 598.50,126.46 598.83,126.48 599.17,126.49 599.50,126.50 599.83,126.50 600.17,126.50 600.50,126.50 600.83,126.50 601.17,126.49 601.50,126.49 601.83,126.48 602.17,126.47 602.50,126.47 602.83,126.46 603.17,126.45 603.50,126.44 603.83,126.43 604.17,126.42 604.50,126.41 604.83,126.39 605.17,126.36 605.50,126.33 605.83,126.27 606.17,126.19 606.50,126.06 606.83,125.88 607.17,125.62 607.50,125.29 607.83,124.86 608.17,124.34 608.50,123.75 608.83,123.11 609.17,122.48 609.50,121.90 609.83,121.43 610.17,121.12 610.50,121.00 610.83,121.00 611.17,121.04 611.50,121.11 611.83,121.21 612.17,121.35 612.50,121.50 612.83,121.69 613.17,121.89 613.50,122.11 613.83,122.34 614.17,122.57 614.50,122.81 614.83,123.05 615.17,123.29 615.50,123.52 615.83,123.74 616.17,123.95 616.50,124.15 616.83,124.33 617.17,124.50 617.50,124.65 617.83,124.79 618.17,124.91 618.50,125.01 618.83,125.10 619.17,125.18 619.50,125.25 619.83,125.30 620.17,125.35 620.50,125.38 620.83,125.41 621.17,125.43 621.50,125.45 621.83,125.46 622.17,125.47 622.50,125.48 622.83,125.48 623.17,125.49 623.50,125.49 623.83,125.49 624.17,125.49 624.50,125.49 624.83,125.49 625.17,125.49 625.50,125.50 625.83,125.51 626.17,125.53 626.50,125.54 626.83,125.56 627.17,125.59 627.50,125.61 627.83,125.64 628.17,125.66 628.50,125.69 628.83,125.72 629.17,125.74 629.50,125.77 629.83,125.79 630.17,125.81 630.50,125.83 630.83,125.85 631.17,125.87 631.50,125.89 631.83,125.91 632.17,125.92 632.50,125.94 632.83,125.96 633.17,125.98 633.50,126.00 633.83,126.02 634.17,126.04 634.50,126.06 634.83,126.08 635.17,126.10 635.50,126.12 635.83,126.14 636.17,126.16 636.50,126.19 636.83,126.21 637.17,126.24 637.50,126.27 637.83,126.31 638.17,126.34 638.50,126.38 638.83,126.42 639.17,126.46 639.50,126.50 639.83,126.54 640.17,126.58 640.50,126.62 640.83,126.65 641.17,126.69 641.50,126.72 641.83,126.74 642.17,126.76 642.50,126.78 642.83,126.79 643.17,126.80 643.50,126.80 643.83,126.80 644.17,126.79 644.50,126.78 644.83,126.76 645.17,126.74 645.50,126.73 645.83,126.71 646.17,126.68 646.50,126.66 646.83,126.64 647.17,126.62 647.50,126.59 647.83,126.57 648.17,126.56 648.50,126.54 648.83,126.52 649.17,126.51 649.50,126.50 649.83,126.49 650.17,126.49 650.50,126.49 650.83,126.48 651.17,126.47 651.50,126.45 651.83,126.44 652.17,126.41 652.50,126.38 652.83,126.33 653.17,126.28 653.50,126.21 653.83,126.12 654.17,126.03 654.50,125.91 654.83,125.79 655.17,125.65 655.50,125.50 655.83,125.35 656.17,125.19 656.50,125.05 656.83,124.91 657.17,124.80 657.50,124.70 657.83,124.64 658.17,124.60 658.33,124.60 658.50,124.60 658.83,124.64 659.17,124.70 659.50,124.80 659.83,124.91 660.17,125.05 660.50,125.19 660.83,125.35 661.17,125.50 661.50,125.65 661.83,125.79 662.17,125.91 662.50,126.03 662.83,126.12 663.17,126.21 663.50,126.28 663.83,126.33 664.17,126.38 664.50,126.41 664.83,126.44 665.17,126.45 665.50,126.47 665.83,126.48 666.17,126.49 666.50,126.49 666.83,126.49 667.17,126.49 667.50,126.47 667.83,126.44 668.17,126.41 668.50,126.37 668.83,126.33 669.17,126.28 669.50,126.23 669.83,126.18 670.17,126.12 670.50,126.07 670.83,126.02 671.17,125.97 671.50,125.93 671.83,125.89 672.17,125.86 672.50,125.83 672.83,125.81 673.17,125.80 673.50,125.80 673.83,125.81 674.17,125.84 674.50,125.87 674.83,125.91 675.17,125.95 675.50,126.00 675.83,126.05 676.17,126.10 676.50,126.15 676.83,126.19 677.17,126.23 677.50,126.26 677.83,126.29 678.17,126.30 678.50,126.30 678.83,126.30 679.17,126.30 679.50,126.30 679.83,126.30 680.17,126.30 680.50,126.30 680.83,126.30 681.17,126.30 681.50,126.30 681.83,126.30 682.17,126.29 682.50,126.29 682.83,126.29 683.17,126.28 683.50,126.28 683.83,126.27 684.17,126.25 684.50,126.24 684.83,126.22 685.17,126.19 685.50,126.15 685.83,126.10 686.17,126.04 686.50,125.97 686.83,125.88 687.17,125.78 687.50,125.65 687.83,125.50 688.17,125.33 688.50,125.14 688.83,124.92 689.17,124.68 689.50,124.42 689.83,124.14 690.17,123.84 690.50,123.54 690.83,123.23 691.17,122.93 691.50,122.63 691.83,122.36 692.17,122.11 692.50,121.90 692.83,121.73 693.17,121.60 693.50,121.52 693.83,121.50 694.17,121.53 694.50,121.61 694.83,121.74 695.17,121.92 695.50,122.14 695.83,122.39 696.17,122.67 696.50,122.97 696.83,123.28 697.17,123.59 697.50,123.90 697.83,124.20 698.17,124.48 698.50,124.75 698.83,125.00 699.17,125.22 699.50,125.42 699.83,125.60 700.17,125.75 700.50,125.88 700.83,125.99 701.17,126.09 701.50,126.16 701.83,126.23 702.17,126.28 702.50,126.32 702.83,126.36 703.17,126.38 703.50,126.41 703.83,126.42 704.17,126.44 704.50,126.45 704.83,126.46 705.17,126.47 705.50,126.48 705.83,126.48 706.17,126.49 706.50,126.50 706.83,126.50 707.17,126.51 707.50,126.52 707.83,126.54 708.17,126.55 708.50,126.57 708.83,126.59 709.17,126.61 709.50,126.63 709.83,126.65 710.17,126.67 710.50,126.69 710.83,126.71 711.17,126.73 711.50,126.75 711.83,126.77 712.17,126.78 712.50,126.79 712.83,126.80 713.17,126.80 713.50,126.80 713.83,126.79 714.17,126.79 714.50,126.77 714.83,126.76 715.17,126.74 715.50,126.72 715.83,126.69 716.17,126.67 716.50,126.64 716.83,126.61 717.17,126.58 717.50,126.55 717.83,126.52 718.17,126.49 718.50,126.46 718.83,126.43 719.17,126.40 719.50,126.38 719.83,126.35 720.17,126.33 720.50,126.30 720.83,126.28 721.17,126.25 721.50,126.22 721.83,126.18 722.17,126.14 722.50,126.08 722.83,126.01 723.17,125.93 723.50,125.83 723.83,125.72 724.17,125.60 724.50,125.48 724.83,125.36 725.17,125.25 725.50,125.15 725.83,125.07 726.17,125.02 726.50,125.00 726.67,125.00 726.83,125.01 727.17,125.06 727.50,125.14 727.83,125.24 728.17,125.37 728.50,125.51 728.83,125.66 729.17,125.81 729.50,125.95 729.83,126.08 730.17,126.20 730.50,126.31 730.83,126.40 731.17,126.47 731.50,126.53 731.83,126.59 732.17,126.63 732.50,126.66 732.83,126.69 733.17,126.71 733.50,126.73 733.83,126.75 734.17,126.77 734.50,126.78 734.83,126.79 735.17,126.80 735.50,126.82 735.83,126.83 736.17,126.84 736.50,126.86 736.83,126.87 737.17,126.88 737.50,126.90 737.83,126.91 738.17,126.92 738.50,126.93 738.83,126.95 739.17,126.96 739.50,126.97 739.83,126.97 740.17,126.98 740.50,126.99 740.83,126.99 741.17,127.00 741.50,127.00 741.83,127.00 742.17,126.99 742.50,126.98 742.83,126.97 743.17,126.95 743.50,126.93 743.83,126.90 744.17,126.87 744.50,126.84 744.83,126.81 745.17,126.79 745.50,126.76 745.83,126.73 746.17,126.70 746.50,126.67 746.83,126.65 747.17,126.63 747.50,126.62 747.83,126.61 748.17,126.60 748.50,126.60 748.83,126.60 749.17,126.60 749.50,126.60 749.83,126.60 750.17,126.60 750.50,126.60 750.83,126.60 751.17,126.60 751.50,126.60 751.83,126.60 752.17,126.60 752.50,126.59 752.83,126.59 753.17,126.58 753.50,126.57 753.83,126.56 754.17,126.54 754.50,126.52 754.83,126.49 755.17,126.46 755.50,126.41 755.83,126.35 756.17,126.28 756.50,126.20 756.83,126.10 757.17,125.98 757.50,125.85 757.83,125.70 758.17,125.52 758.50,125.33 758.83,125.12 759.17,124.89 759.50,124.64 759.83,124.39 760.17,124.13 760.50,123.86 760.83,123.60 761.17,123.35 761.50,123.11 761.83,122.89 762.17,122.70 762.50,122.54 762.83,122.42 763.17,122.34 763.50,122.30 763.67,122.30 763.83,122.31 764.17,122.38 764.50,122.50 764.83,122.68 765.17,122.91 765.50,123.17 765.83,123.47 766.17,123.78 766.50,124.10 766.83,124.42 767.17,124.74 767.50,125.04 767.83,125.32 768.17,125.57 768.50,125.80 768.83,126.00 769.17,126.18 769.50,126.32 769.83,126.45 770.17,126.55 770.50,126.64 770.83,126.71 771.17,126.76 771.50,126.81 771.83,126.84 772.17,126.87 772.50,126.89 772.83,126.91 773.17,126.92 773.50,126.94 773.83,126.95 774.17,126.96 774.50,126.96 774.83,126.97 775.17,126.98 775.50,126.99 775.83,127.00 776.17,127.02 776.50,127.03 776.83,127.05 777.17,127.07 777.50,127.08 777.83,127.10 778.17,127.12 778.50,127.13 778.83,127.14 779.17,127.14 779.50,127.14 779.83,127.13 780.17,127.12 780.50,127.10 780.83,127.09 781.17,127.07 781.50,127.04 781.83,127.02 782.17,126.99 782.50,126.96 782.83,126.92 783.17,126.88 783.50,126.83 783.83,126.78 784.17,126.72 784.50,126.66 784.83,126.60 785.17,126.52 785.50,126.44 785.83,126.36 786.17,126.26 786.50,126.16 786.83,126.05 787.17,125.94 787.50,125.81 787.83,125.68 788.17,125.54 788.50,125.38 788.83,125.22 789.17,125.05 789.50,124.87 789.83,124.68 790.17,124.48 790.50,124.27 790.83,124.05 791.17,123.81 791.50,123.57 791.83,123.32 792.17,123.06 792.50,122.79 792.83,122.50 793.17,122.21 793.50,121.91 793.83,121.60 794.17,121.28 794.50,120.95 794.83,120.60 795.17,120.25 795.50,119.88 795.83,119.50 796.17,119.11 796.50,118.69 796.83,118.26 797.17,117.79 797.50,117.30 797.83,116.78 798.17,116.22 798.50,115.61 798.83,114.95 799.17,114.23 799.50,113.45 799.83,112.59 800.17,111.66 800.50,110.64 800.83,109.54 801.17,108.36 801.50,107.09 801.83,105.74 802.17,104.31 802.50,102.83 802.83,101.29 803.17,99.73 803.50,98.16 803.83,96.60 804.17,95.08 804.50,93.64 804.83,92.29 805.00,91.66 805.17,91.07 805.50,89.99 805.83,89.07 806.17,88.34 806.50,87.81 806.83,87.50 807.15,87.42 807.17,87.42 807.50,87.50 807.83,87.68 808.17,87.95 808.50,88.32 808.83,88.79 809.17,89.34 809.50,89.97 809.83,90.68 810.17,91.45 810.50,92.29 810.83,93.17 811.17,94.10 811.50,95.07 811.83,96.06 812.17,97.08 812.50,98.10 812.83,99.12 813.17,100.14 813.50,101.15 813.83,102.14 814.17,103.11 814.50,104.05 814.83,104.96 815.17,105.83 815.50,106.66 815.83,107.45 816.17,108.20 816.50,108.91 816.83,109.56 817.17,110.18 817.50,110.75 817.83,111.28 818.17,111.76 818.50,112.21 818.83,112.61 819.17,112.98 819.50,113.32 819.83,113.62 820.17,113.88 820.50,114.12 820.83,114.33 821.17,114.52 821.50,114.68 821.83,114.81 822.17,114.93 822.50,115.02 822.83,115.09 823.17,115.14 823.50,115.18 823.83,115.19 824.17,115.19 824.50,115.16 824.83,115.12 825.17,115.05 825.50,114.97 825.83,114.86 826.17,114.73 826.50,114.57 826.83,114.39 827.17,114.18 827.50,113.94 827.83,113.67 828.17,113.37 828.50,113.04 828.83,112.67 829.17,112.26 829.50,111.82 829.83,111.33 830.17,110.81 830.50,110.25 830.83,109.65 831.17,109.02 831.50,108.34 831.83,107.63 832.17,106.88 832.50,106.10 832.83,105.30 833.17,104.47 833.50,103.62 833.83,102.75 834.17,101.87 834.50,100.99 834.83,100.11 835.17,99.23 835.50,98.38 835.83,97.54 836.17,96.74 836.50,95.97 836.83,95.24 837.17,94.57 837.50,93.96 837.83,93.41 838.17,92.93 838.50,92.53 838.83,92.22 839.17,91.98 839.50,91.84 839.83,91.79 840.16,91.83 840.17,91.83 840.22,91.85 840.50,91.97 840.83,92.22 841.17,92.57 841.50,93.03 841.83,93.58 842.17,94.22 842.50,94.95 842.83,95.75 843.17,96.63 843.50,97.56 843.83,98.55 844.17,99.58 844.50,100.64 844.83,101.72 845.17,102.82 845.50,103.92 845.83,105.02 846.17,106.11 846.50,107.18 846.83,108.22 847.17,109.23 847.50,110.21 847.83,111.15 848.17,112.05 848.50,112.90 848.83,113.71 849.17,114.47 849.50,115.18 849.83,115.85 850.17,116.47 850.50,117.05 850.83,117.58 851.17,118.08 851.50,118.54 851.83,118.96 852.17,119.35 852.50,119.71 852.83,120.04 853.17,120.34 853.50,120.62 853.83,120.88 854.17,121.13 854.50,121.35 854.83,121.56 855.17,121.76 855.50,121.94 855.83,122.12 856.17,122.29 856.50,122.45 856.83,122.60 857.17,122.75 857.50,122.89 857.83,123.02 858.17,123.16 858.50,123.29 858.83,123.41 859.17,123.54 859.50,123.66 859.83,123.78 860.17,123.89 860.50,124.01 860.83,124.12 861.17,124.23 861.50,124.34 861.83,124.45 862.17,124.55 862.50,124.66 862.83,124.76 863.17,124.86 863.50,124.96 863.83,125.06 864.17,125.15 864.50,125.25 864.83,125.34 865.17,125.43 865.50,125.52 865.83,125.61 866.17,125.70 866.50,125.78 866.83,125.86 867.17,125.94 867.50,126.02 867.83,126.10 868.17,126.18 868.50,126.25 868.83,126.32 869.17,126.40 869.50,126.47 869.83,126.53 870.17,126.60 870.50,126.66 870.83,126.73 871.17,126.79 871.50,126.85 871.83,126.91 872.17,126.96 872.50,127.02 872.83,127.07 873.17,127.13 873.50,127.18 873.83,127.23 874.17,127.27 874.50,127.32 874.83,127.37 875.17,127.41 875.50,127.45 875.83,127.49 876.17,127.53 876.50,127.57 876.83,127.61 877.17,127.65 877.50,127.68 877.83,127.72 878.17,127.75 878.50,127.78 878.83,127.81 879.17,127.84 879.50,127.87 879.83,127.90 880.17,127.92 880.50,127.95 880.83,127.97 881.17,128.00 881.50,128.02 881.83,128.04 882.17,128.06 882.50,128.08 882.83,128.10 883.17,128.12 883.50,128.14 883.83,128.16 884.17,128.17 884.50,128.19 884.83,128.21 885.17,128.22 885.50,128.23 885.83,128.25 886.17,128.26 886.50,128.27 886.83,128.28 887.17,128.30 887.50,128.31 887.83,128.32 888.17,128.33 888.50,128.34 888.83,128.34 889.17,128.35 889.50,128.36 889.83,128.37 890.17,128.38 890.50,128.38 890.83,128.39 891.17,128.39 891.50,128.40 891.83,128.41 892.17,128.41 892.50,128.42 892.83,128.42 893.17,128.43 893.50,128.43 893.83,128.43" fill="none" stroke="#000" stroke-width="1.15" stroke-linejoin="round"/></g>
<path d="M292.80 10.00h-1.0M292.80 23.22h-1.0M292.80 36.44h-1.0M292.80 49.67h-1.0M292.80 62.89h-1.0M292.80 76.11h-1.0M292.80 89.33h-1.0M292.80 102.56h-1.0M292.80 115.78h-1.0M292.80 129.00h-1.0M293.10 134.90v1.6M297.96 134.90v1.0M302.83 134.90v1.0M307.69 134.90v1.0M312.56 134.90v1.0M317.42 134.90v1.6M322.28 134.90v1.0M327.15 134.90v1.0M332.01 134.90v1.0M336.88 134.90v1.0M341.74 134.90v1.6M346.60 134.90v1.0M351.47 134.90v1.0M356.33 134.90v1.0M361.20 134.90v1.0M366.06 134.90v1.6M370.92 134.90v1.0M375.79 134.90v1.0M380.65 134.90v1.0M385.52 134.90v1.0M390.38 134.90v1.6M395.24 134.90v1.0M400.11 134.90v1.0M404.97 134.90v1.0M409.84 134.90v1.0M414.70 134.90v1.6M419.56 134.90v1.0M424.43 134.90v1.0M429.29 134.90v1.0M434.16 134.90v1.0M439.02 134.90v1.6M443.88 134.90v1.0M448.75 134.90v1.0M453.61 134.90v1.0M458.48 134.90v1.0M463.34 134.90v1.6M468.20 134.90v1.0M473.07 134.90v1.0M477.93 134.90v1.0M482.80 134.90v1.0M487.66 134.90v1.6M492.52 134.90v1.0M497.39 134.90v1.0M502.25 134.90v1.0M507.12 134.90v1.0M511.98 134.90v1.6M516.84 134.90v1.0M521.71 134.90v1.0M526.57 134.90v1.0M531.44 134.90v1.0M536.30 134.90v1.6" stroke="#555" stroke-width="0.7" fill="none"/>
<rect x="293.10" y="4.40" width="243.20" height="130.20" fill="none" stroke="#2e2e2e" stroke-width="1.35"/>
<text transform="translate(290.80 12.28) scale(1 1.1)" font-size="5.75" text-anchor="end" fill="#404040" stroke="#404040" stroke-width="0.08">0.117</text>
<text transform="translate(290.80 25.50) scale(1 1.1)" font-size="5.75" text-anchor="end" fill="#404040" stroke="#404040" stroke-width="0.08">0.104</text>
<text transform="translate(290.80 38.72) scale(1 1.1)" font-size="5.75" text-anchor="end" fill="#404040" stroke="#404040" stroke-width="0.08">0.091</text>
<text transform="translate(290.80 51.94) scale(1 1.1)" font-size="5.75" text-anchor="end" fill="#404040" stroke="#404040" stroke-width="0.08">0.078</text>
<text transform="translate(290.80 65.17) scale(1 1.1)" font-size="5.75" text-anchor="end" fill="#404040" stroke="#404040" stroke-width="0.08">0.065</text>
<text transform="translate(290.80 78.39) scale(1 1.1)" font-size="5.75" text-anchor="end" fill="#404040" stroke="#404040" stroke-width="0.08">0.052</text>
<text transform="translate(290.80 91.61) scale(1 1.1)" font-size="5.75" text-anchor="end" fill="#404040" stroke="#404040" stroke-width="0.08">0.039</text>
<text transform="translate(290.80 104.83) scale(1 1.1)" font-size="5.75" text-anchor="end" fill="#404040" stroke="#404040" stroke-width="0.08">0.026</text>
<text transform="translate(290.80 118.05) scale(1 1.1)" font-size="5.75" text-anchor="end" fill="#404040" stroke="#404040" stroke-width="0.08">0.013</text>
<text transform="translate(290.80 131.28) scale(1 1.1)" font-size="5.75" text-anchor="end" fill="#404040" stroke="#404040" stroke-width="0.08">0.000</text>
<text transform="translate(294.50 141.78) scale(1 1.1)" font-size="5.75" text-anchor="middle" fill="#404040" stroke="#404040" stroke-width="0.08">0.00</text>
<text transform="translate(319.00 141.78) scale(1 1.1)" font-size="5.75" text-anchor="middle" fill="#404040" stroke="#404040" stroke-width="0.08">5.00</text>
<text transform="translate(343.50 141.78) scale(1 1.1)" font-size="5.75" text-anchor="middle" fill="#404040" stroke="#404040" stroke-width="0.08">10.00</text>
<text transform="translate(368.00 141.78) scale(1 1.1)" font-size="5.75" text-anchor="middle" fill="#404040" stroke="#404040" stroke-width="0.08">15.00</text>
<text transform="translate(392.50 141.78) scale(1 1.1)" font-size="5.75" text-anchor="middle" fill="#404040" stroke="#404040" stroke-width="0.08">20.00</text>
<text transform="translate(417.00 141.78) scale(1 1.1)" font-size="5.75" text-anchor="middle" fill="#404040" stroke="#404040" stroke-width="0.08">25.00</text>
<text transform="translate(441.50 141.78) scale(1 1.1)" font-size="5.75" text-anchor="middle" fill="#404040" stroke="#404040" stroke-width="0.08">30.00</text>
<text transform="translate(466.00 141.78) scale(1 1.1)" font-size="5.75" text-anchor="middle" fill="#404040" stroke="#404040" stroke-width="0.08">35.00</text>
<text transform="translate(490.50 141.78) scale(1 1.1)" font-size="5.75" text-anchor="middle" fill="#404040" stroke="#404040" stroke-width="0.08">40.00</text>
<text transform="translate(515.00 141.78) scale(1 1.1)" font-size="5.75" text-anchor="middle" fill="#404040" stroke="#404040" stroke-width="0.08">45.00</text>
<text transform="translate(539.50 141.78) scale(1 1.1)" font-size="5.75" text-anchor="middle" fill="#404040" stroke="#404040" stroke-width="0.08">50.00</text>
<text x="420.00" y="154.40" font-size="7.80" text-anchor="middle" fill="#1a1a1a" stroke="#1a1a1a" stroke-width="0.25">Min</text>
<text transform="translate(272.00 72.00) rotate(-90)" font-size="7.30" text-anchor="middle" fill="#1a1a1a" stroke="#1a1a1a" stroke-width="0.2">AU</text>
<text transform="translate(326.60 48.00) scale(0.95 1.03)" font-size="14" fill="#111" stroke="#111" stroke-width="0.2">c</text>
<text x="361.50" y="116.00" font-size="9" fill="#111" stroke="#111" stroke-width="0.26">Man</text>
<text x="386.80" y="121.50" font-size="9" fill="#111" stroke="#111" stroke-width="0.26">Rha</text>
<text x="407.00" y="115.80" font-size="9" fill="#111" stroke="#111" stroke-width="0.26">GlcA</text>
<text x="428.00" y="121.80" font-size="9" fill="#111" stroke="#111" stroke-width="0.26">GalA</text>
<text x="451.50" y="116.00" font-size="9" fill="#111" stroke="#111" stroke-width="0.26">Glc</text>
<text x="477.00" y="82.80" font-size="9" fill="#111" stroke="#111" stroke-width="0.26">Gal</text>
<text x="496.50" y="82.80" font-size="9" fill="#111" stroke="#111" stroke-width="0.26">Ara</text>
<rect x="295.80" y="164.30" width="240.00" height="126.10" fill="none" stroke="#ebebeb" stroke-width="0.8"/>
<line x1="293.00" y1="290.40" x2="537.10" y2="290.40" stroke="#e4e4e4" stroke-width="0.8"/>
<g transform="scale(0.600 1)"><polyline points="488.33,286.20 488.67,286.21 489.00,286.23 489.33,286.24 489.67,286.25 490.00,286.26 490.33,286.27 490.67,286.28 491.00,286.29 491.33,286.30 491.67,286.31 492.00,286.32 492.33,286.32 492.67,286.33 493.00,286.34 493.33,286.34 493.67,286.35 494.00,286.35 494.33,286.36 494.67,286.36 495.00,286.37 495.33,286.37 495.67,286.37 496.00,286.38 496.33,286.38 496.67,286.38 497.00,286.39 497.33,286.39 497.67,286.39 498.00,286.39 498.33,286.39 498.67,286.39 499.00,286.40 499.33,286.40 499.67,286.40 500.00,286.40 500.33,286.40 500.67,286.40 501.00,286.40 501.33,286.40 501.67,286.40 502.00,286.40 502.33,286.40 502.67,286.40 503.00,286.40 503.33,286.26 503.67,285.88 504.00,285.19 504.33,283.70 504.67,279.97 505.00,272.24 505.33,261.09 505.67,252.01 505.83,250.50 506.00,251.57 506.33,259.66 506.67,269.41 507.00,274.06 507.33,267.78 507.67,243.78 508.00,212.98 508.17,205.50 508.33,205.48 508.67,204.36 509.00,174.68 509.17,169.00 509.33,182.05 509.67,234.46 510.00,261.55 510.33,267.45 510.67,269.94 511.00,272.17 511.33,274.15 511.67,275.79 512.00,277.05 512.33,277.73 512.67,276.82 513.00,271.86 513.33,261.59 513.67,251.77 513.83,250.30 514.00,252.05 514.33,262.45 514.67,273.37 515.00,279.10 515.33,280.97 515.67,281.49 516.00,281.75 516.33,281.96 516.67,282.14 517.00,282.31 517.33,282.44 517.67,282.54 518.00,282.60 518.33,282.42 518.67,281.15 519.00,276.85 519.33,268.44 519.67,260.19 519.83,258.60 520.00,259.11 520.33,264.45 520.67,271.67 521.00,276.83 521.33,279.29 521.67,280.33 522.00,280.91 522.33,281.42 522.67,281.92 523.00,282.40 523.33,282.83 523.67,283.21 524.00,283.56 524.33,283.86 524.67,284.12 525.00,284.35 525.33,284.54 525.67,284.70 526.00,284.83 526.33,284.93 526.67,284.99 527.00,285.04 527.33,285.08 527.67,285.11 528.00,285.15 528.33,285.18 528.67,285.21 529.00,285.23 529.33,285.25 529.67,285.27 530.00,285.29 530.33,285.29 530.67,285.30 531.00,285.30 531.33,285.27 531.67,285.22 532.00,285.16 532.33,285.09 532.67,285.01 533.00,284.94 533.33,284.88 533.67,284.82 534.00,284.68 534.33,284.08 534.67,282.08 535.00,278.19 535.33,274.49 535.50,273.90 535.67,274.24 536.00,276.57 536.33,279.81 536.67,282.44 537.00,283.93 537.33,284.55 537.67,284.75 538.00,284.83 538.33,284.90 538.67,284.99 539.00,285.08 539.33,285.19 539.67,285.30 540.00,285.40 540.33,285.50 540.67,285.57 541.00,285.62 541.33,285.67 541.67,285.72 542.00,285.77 542.33,285.82 542.67,285.87 543.00,285.91 543.33,285.95 543.67,285.99 544.00,286.03 544.33,286.06 544.67,286.10 545.00,286.12 545.33,286.15 545.67,286.17 546.00,286.18 546.33,286.19 546.67,286.20 547.00,286.20 547.33,286.21 547.67,286.21 548.00,286.21 548.33,286.22 548.67,286.22 549.00,286.22 549.33,286.22 549.67,286.23 550.00,286.23 550.33,286.23 550.67,286.24 551.00,286.24 551.33,286.24 551.67,286.24 552.00,286.25 552.33,286.25 552.67,286.25 553.00,286.25 553.33,286.25 553.67,286.26 554.00,286.26 554.33,286.26 554.67,286.26 555.00,286.26 555.33,286.27 555.67,286.27 556.00,286.27 556.33,286.27 556.67,286.27 557.00,286.27 557.33,286.28 557.67,286.28 558.00,286.28 558.33,286.28 558.67,286.28 559.00,286.28 559.33,286.28 559.67,286.28 560.00,286.29 560.33,286.29 560.67,286.29 561.00,286.29 561.33,286.29 561.67,286.29 562.00,286.29 562.33,286.29 562.67,286.29 563.00,286.29 563.33,286.29 563.67,286.29 564.00,286.30 564.33,286.30 564.67,286.30 565.00,286.30 565.33,286.30 565.67,286.30 566.00,286.30 566.33,286.30 566.67,286.30 567.00,286.30 567.33,286.30 567.67,286.30 568.00,286.30 568.33,286.30 568.67,286.30 569.00,286.30 569.33,286.30 569.67,286.30 570.00,286.30 570.33,286.30 570.67,286.30 571.00,286.29 571.33,286.29 571.67,286.29 572.00,286.28 572.33,286.27 572.67,286.27 573.00,286.26 573.33,286.25 573.67,286.24 574.00,286.24 574.33,286.23 574.67,286.22 575.00,286.21 575.33,286.20 575.67,286.19 576.00,286.18 576.33,286.17 576.67,286.16 577.00,286.15 577.33,286.14 577.67,286.13 578.00,286.12 578.33,286.12 578.67,286.11 579.00,286.10 579.33,286.10 579.67,286.09 580.00,286.07 580.33,286.04 580.67,285.98 581.00,285.85 581.33,285.60 581.67,285.14 582.00,284.37 582.33,283.19 582.67,281.50 583.00,279.33 583.33,276.79 583.67,274.18 584.00,271.87 584.33,270.27 584.67,269.70 585.00,270.20 585.33,271.61 585.67,273.69 586.00,276.11 586.33,278.53 586.67,280.70 587.00,282.47 587.33,283.79 587.67,284.70 588.00,285.28 588.33,285.63 588.67,285.81 589.00,285.90 589.33,285.92 589.67,285.87 590.00,285.72 590.33,285.41 590.67,284.84 591.00,283.99 591.33,282.86 591.67,281.62 592.00,280.53 592.33,279.89 592.50,279.80 592.67,279.89 593.00,280.53 593.33,281.62 593.67,282.86 594.00,283.99 594.33,284.85 594.67,285.41 595.00,285.73 595.33,285.89 595.67,285.96 596.00,285.99 596.33,286.00 596.67,286.00 597.00,286.00 597.33,286.00 597.67,286.00 598.00,286.00 598.33,286.00 598.67,286.00 599.00,286.00 599.33,286.00 599.67,286.00 600.00,286.00 600.33,286.00 600.67,286.00 601.00,286.00 601.33,286.00 601.67,286.00 602.00,286.00 602.33,286.00 602.67,286.00 603.00,286.00 603.33,286.00 603.67,286.00 604.00,286.00 604.33,285.99 604.67,285.98 605.00,285.96 605.33,285.92 605.67,285.86 606.00,285.78 606.33,285.66 606.67,285.50 607.00,285.29 607.33,285.02 607.67,284.69 608.00,284.32 608.33,283.91 608.67,283.49 609.00,283.08 609.33,282.72 609.67,282.44 610.00,282.26 610.33,282.20 610.67,282.26 611.00,282.41 611.33,282.66 611.67,282.98 612.00,283.34 612.33,283.73 612.67,284.11 613.00,284.48 613.33,284.82 613.67,285.11 614.00,285.35 614.33,285.55 614.67,285.71 615.00,285.83 615.33,285.91 615.67,285.97 616.00,286.02 616.33,286.04 616.67,286.06 617.00,286.08 617.33,286.09 617.67,286.09 618.00,286.10 618.33,286.10 618.67,286.10 619.00,286.10 619.33,286.11 619.67,286.11 620.00,286.11 620.33,286.11 620.67,286.12 621.00,286.12 621.33,286.12 621.67,286.12 622.00,286.12 622.33,286.13 622.67,286.13 623.00,286.13 623.33,286.13 623.67,286.14 624.00,286.14 624.33,286.14 624.67,286.14 625.00,286.15 625.33,286.15 625.67,286.15 626.00,286.15 626.33,286.16 626.67,286.16 627.00,286.16 627.33,286.16 627.67,286.17 628.00,286.17 628.33,286.17 628.67,286.17 629.00,286.18 629.33,286.18 629.67,286.18 630.00,286.18 630.33,286.18 630.67,286.19 631.00,286.19 631.33,286.19 631.67,286.19 632.00,286.19 632.33,286.19 632.67,286.20 633.00,286.20 633.33,286.20 633.67,286.20 634.00,286.20 634.33,286.20 634.67,286.21 635.00,286.21 635.33,286.21 635.67,286.21 636.00,286.21 636.33,286.21 636.67,286.21 637.00,286.21 637.33,286.22 637.67,286.22 638.00,286.22 638.33,286.22 638.67,286.22 639.00,286.22 639.33,286.22 639.67,286.22 640.00,286.22 640.33,286.23 640.67,286.23 641.00,286.23 641.33,286.23 641.67,286.23 642.00,286.23 642.33,286.23 642.67,286.23 643.00,286.23 643.33,286.23 643.67,286.22 644.00,286.21 644.33,286.19 644.67,286.16 645.00,286.12 645.33,286.07 645.67,285.99 646.00,285.90 646.33,285.79 646.67,285.67 647.00,285.54 647.33,285.42 647.67,285.32 648.00,285.24 648.33,285.20 648.50,285.20 648.67,285.21 649.00,285.25 649.33,285.32 649.67,285.43 650.00,285.55 650.33,285.68 650.67,285.80 651.00,285.91 651.33,286.01 651.67,286.08 652.00,286.14 652.33,286.18 652.67,286.21 653.00,286.23 653.33,286.24 653.67,286.25 654.00,286.25 654.33,286.26 654.67,286.26 655.00,286.26 655.33,286.26 655.67,286.26 656.00,286.26 656.33,286.27 656.67,286.27 657.00,286.27 657.33,286.27 657.67,286.27 658.00,286.27 658.33,286.27 658.67,286.27 659.00,286.27 659.33,286.27 659.67,286.27 660.00,286.27 660.33,286.28 660.67,286.28 661.00,286.28 661.33,286.28 661.67,286.28 662.00,286.28 662.33,286.28 662.67,286.28 663.00,286.28 663.33,286.28 663.67,286.28 664.00,286.29 664.33,286.29 664.67,286.29 665.00,286.29 665.33,286.29 665.67,286.29 666.00,286.29 666.33,286.29 666.67,286.29 667.00,286.30 667.33,286.30 667.67,286.30 668.00,286.30 668.33,286.30 668.67,286.30 669.00,286.30 669.33,286.31 669.67,286.31 670.00,286.31 670.33,286.31 670.67,286.31 671.00,286.31 671.33,286.32 671.67,286.32 672.00,286.32 672.33,286.32 672.67,286.32 673.00,286.32 673.33,286.33 673.67,286.33 674.00,286.33 674.33,286.33 674.67,286.33 675.00,286.34 675.33,286.34 675.67,286.34 676.00,286.34 676.33,286.34 676.67,286.35 677.00,286.35 677.33,286.35 677.67,286.35 678.00,286.36 678.33,286.36 678.67,286.36 679.00,286.36 679.33,286.36 679.67,286.37 680.00,286.37 680.33,286.37 680.67,286.37 681.00,286.38 681.33,286.38 681.67,286.38 682.00,286.38 682.33,286.38 682.67,286.39 683.00,286.39 683.33,286.39 683.67,286.39 684.00,286.40 684.33,286.40 684.67,286.40 685.00,286.39 685.33,286.39 685.67,286.38 686.00,286.36 686.33,286.33 686.67,286.28 687.00,286.21 687.33,286.13 687.67,286.02 688.00,285.89 688.33,285.75 688.67,285.60 689.00,285.46 689.33,285.34 689.67,285.25 690.00,285.21 690.17,285.20 690.33,285.21 690.67,285.26 691.00,285.35 691.33,285.48 691.67,285.62 692.00,285.78 692.33,285.92 692.67,286.05 693.00,286.17 693.33,286.26 693.67,286.33 694.00,286.38 694.33,286.41 694.67,286.44 695.00,286.45 695.33,286.46 695.67,286.47 696.00,286.47 696.33,286.48 696.67,286.48 697.00,286.48 697.33,286.48 697.67,286.49 698.00,286.49 698.33,286.49 698.67,286.49 699.00,286.49 699.33,286.49 699.67,286.50 700.00,286.50 700.33,286.50 700.67,286.50 701.00,286.50 701.33,286.50 701.67,286.51 702.00,286.51 702.33,286.51 702.67,286.51 703.00,286.51 703.33,286.51 703.67,286.51 704.00,286.51 704.33,286.51 704.67,286.52 705.00,286.52 705.33,286.52 705.67,286.52 706.00,286.52 706.33,286.52 706.67,286.52 707.00,286.52 707.33,286.52 707.67,286.52 708.00,286.52 708.33,286.52 708.67,286.52 709.00,286.52 709.33,286.52 709.67,286.52 710.00,286.52 710.33,286.52 710.67,286.52 711.00,286.52 711.33,286.52 711.67,286.52 712.00,286.52 712.33,286.52 712.67,286.52 713.00,286.52 713.33,286.52 713.67,286.52 714.00,286.52 714.33,286.52 714.67,286.52 715.00,286.52 715.33,286.51 715.67,286.51 716.00,286.51 716.33,286.51 716.67,286.51 717.00,286.51 717.33,286.51 717.67,286.50 718.00,286.50 718.33,286.50 718.67,286.50 719.00,286.49 719.33,286.49 719.67,286.49 720.00,286.49 720.33,286.48 720.67,286.48 721.00,286.48 721.33,286.47 721.67,286.47 722.00,286.46 722.33,286.46 722.67,286.46 723.00,286.45 723.33,286.45 723.67,286.44 724.00,286.44 724.33,286.43 724.67,286.43 725.00,286.43 725.33,286.42 725.67,286.42 726.00,286.41 726.33,286.41 726.67,286.40 727.00,286.40 727.33,286.39 727.67,286.39 728.00,286.38 728.33,286.38 728.67,286.37 729.00,286.37 729.33,286.36 729.67,286.36 730.00,286.35 730.33,286.35 730.67,286.34 731.00,286.34 731.33,286.34 731.67,286.33 732.00,286.33 732.33,286.32 732.67,286.32 733.00,286.31 733.33,286.31 733.67,286.31 734.00,286.30 734.33,286.30 734.67,286.30 735.00,286.29 735.33,286.29 735.67,286.28 736.00,286.28 736.33,286.28 736.67,286.27 737.00,286.27 737.33,286.26 737.67,286.26 738.00,286.25 738.33,286.25 738.67,286.25 739.00,286.24 739.33,286.24 739.67,286.23 740.00,286.23 740.33,286.22 740.67,286.22 741.00,286.22 741.33,286.21 741.67,286.21 742.00,286.20 742.33,286.20 742.67,286.19 743.00,286.19 743.33,286.18 743.67,286.18 744.00,286.17 744.33,286.17 744.67,286.16 745.00,286.16 745.33,286.15 745.67,286.14 746.00,286.14 746.33,286.13 746.67,286.12 747.00,286.11 747.33,286.10 747.67,286.08 748.00,286.07 748.33,286.05 748.67,286.03 749.00,286.01 749.33,285.98 749.67,285.95 750.00,285.92 750.33,285.88 750.67,285.83 751.00,285.77 751.33,285.71 751.67,285.64 752.00,285.57 752.33,285.48 752.67,285.38 753.00,285.28 753.33,285.16 753.67,285.03 754.00,284.90 754.33,284.75 754.67,284.59 755.00,284.43 755.33,284.26 755.67,284.08 756.00,283.89 756.33,283.71 756.67,283.52 757.00,283.33 757.33,283.15 757.67,282.97 758.00,282.80 758.33,282.64 758.67,282.50 759.00,282.37 759.33,282.25 759.67,282.16 760.00,282.09 760.33,282.03 760.67,282.01 760.83,282.00 761.00,282.00 761.33,282.05 761.67,282.13 762.00,282.26 762.33,282.43 762.67,282.63 763.00,282.86 763.33,283.10 763.67,283.36 764.00,283.62 764.33,283.87 764.67,284.12 765.00,284.35 765.33,284.56 765.67,284.76 766.00,284.93 766.33,285.09 766.67,285.22 767.00,285.33 767.33,285.42 767.67,285.50 768.00,285.56 768.33,285.61 768.67,285.65 769.00,285.67 769.33,285.69 769.67,285.71 770.00,285.71 770.33,285.72 770.67,285.72 771.00,285.72 771.33,285.72 771.67,285.71 772.00,285.71 772.33,285.71 772.67,285.70 773.00,285.69 773.33,285.69 773.67,285.68 774.00,285.68 774.33,285.67 774.67,285.66 775.00,285.65 775.33,285.65 775.67,285.64 776.00,285.63 776.33,285.62 776.67,285.61 777.00,285.60 777.33,285.59 777.67,285.58 778.00,285.57 778.33,285.56 778.67,285.54 779.00,285.53 779.33,285.51 779.67,285.49 780.00,285.47 780.33,285.44 780.67,285.41 781.00,285.38 781.33,285.34 781.67,285.30 782.00,285.26 782.33,285.21 782.67,285.15 783.00,285.08 783.33,285.01 783.67,284.93 784.00,284.84 784.33,284.74 784.67,284.63 785.00,284.51 785.33,284.37 785.67,284.22 786.00,284.06 786.33,283.88 786.67,283.68 787.00,283.47 787.33,283.23 787.67,282.98 788.00,282.71 788.33,282.42 788.67,282.11 789.00,281.78 789.33,281.43 789.67,281.06 790.00,280.67 790.33,280.26 790.67,279.82 791.00,279.37 791.33,278.91 791.67,278.42 792.00,277.92 792.33,277.41 792.67,276.89 793.00,276.36 793.33,275.82 793.67,275.28 794.00,274.73 794.33,274.19 794.67,273.64 795.00,273.08 795.33,272.52 795.67,271.95 796.00,271.37 796.33,270.76 796.67,270.12 797.00,269.43 797.33,268.67 797.67,267.85 798.00,266.94 798.33,265.94 798.67,264.86 799.00,263.69 799.33,262.46 799.67,261.21 800.00,259.97 800.33,258.78 800.67,257.69 801.00,256.74 801.33,256.00 801.67,255.52 802.00,255.33 802.14,255.34 802.33,255.41 802.67,255.62 803.00,255.95 803.33,256.39 803.67,256.93 804.00,257.56 804.33,258.27 804.67,259.06 805.00,259.90 805.33,260.78 805.67,261.70 806.00,262.63 806.33,263.57 806.67,264.51 807.00,265.43 807.33,266.34 807.67,267.21 808.00,268.04 808.33,268.84 808.67,269.60 809.00,270.32 809.33,270.99 809.67,271.62 810.00,272.21 810.33,272.77 810.67,273.28 811.00,273.77 811.33,274.22 811.67,274.65 812.00,275.06 812.33,275.44 812.67,275.80 813.00,276.14 813.33,276.47 813.67,276.79 814.00,277.09 814.33,277.38 814.67,277.66 815.00,277.93 815.33,278.19 815.67,278.44 816.00,278.68 816.33,278.92 816.67,279.14 817.00,279.35 817.33,279.55 817.67,279.74 818.00,279.92 818.33,280.09 818.67,280.25 819.00,280.40 819.33,280.53 819.67,280.65 820.00,280.75 820.33,280.85 820.67,280.92 821.00,280.99 821.33,281.04 821.67,281.07 822.00,281.09 822.33,281.09 822.67,281.08 823.00,281.05 823.33,281.01 823.67,280.95 824.00,280.88 824.33,280.79 824.67,280.69 825.00,280.58 825.33,280.45 825.67,280.32 826.00,280.17 826.33,280.01 826.67,279.85 827.00,279.67 827.33,279.50 827.67,279.31 828.00,279.13 828.33,278.94 828.67,278.75 829.00,278.57 829.33,278.39 829.67,278.21 830.00,278.04 830.33,277.88 830.67,277.73 831.00,277.60 831.33,277.47 831.67,277.36 832.00,277.26 832.33,277.18 832.67,277.12 833.00,277.08 833.33,277.05 833.67,277.05 833.93,277.06 834.00,277.07 834.33,277.10 834.67,277.16 835.00,277.24 835.33,277.34 835.67,277.46 835.92,277.57 836.00,277.60 836.33,277.76 836.67,277.94 837.00,278.14 837.33,278.35 837.67,278.57 838.00,278.81 838.33,279.05 838.67,279.31 839.00,279.58 839.33,279.85 839.67,280.12 840.00,280.40 840.33,280.68 840.67,280.96 841.00,281.23 841.33,281.50 841.67,281.77 842.00,282.04 842.33,282.29 842.67,282.54 843.00,282.79 843.33,283.02 843.67,283.24 844.00,283.46 844.33,283.66 844.67,283.86 845.00,284.04 845.33,284.22 845.67,284.38 846.00,284.54 846.33,284.69 846.67,284.82 847.00,284.95 847.33,285.07 847.67,285.18 848.00,285.29 848.33,285.38 848.67,285.47 849.00,285.56 849.33,285.63 849.67,285.71 850.00,285.77 850.33,285.83 850.67,285.89 851.00,285.95 851.33,286.00 851.67,286.04 852.00,286.09 852.33,286.13 852.67,286.17 853.00,286.21 853.33,286.24 853.67,286.27 854.00,286.31 854.33,286.34 854.67,286.36 855.00,286.39 855.33,286.42 855.67,286.44 856.00,286.47 856.33,286.49 856.67,286.52 857.00,286.54 857.33,286.56 857.67,286.58 858.00,286.61 858.33,286.63 858.67,286.65 859.00,286.67 859.33,286.68 859.67,286.70 860.00,286.72 860.33,286.74 860.67,286.76 861.00,286.77 861.33,286.79 861.67,286.81 862.00,286.82 862.33,286.84 862.67,286.85 863.00,286.87 863.33,286.88 863.67,286.90 864.00,286.91 864.33,286.92 864.67,286.93 865.00,286.95 865.33,286.96 865.67,286.97 866.00,286.98 866.33,286.99 866.67,287.01 867.00,287.02 867.33,287.03 867.67,287.04 868.00,287.05 868.33,287.06 868.67,287.06 869.00,287.07 869.33,287.08 869.67,287.09 870.00,287.10 870.33,287.11 870.67,287.11 871.00,287.12 871.33,287.13 871.67,287.14 872.00,287.14 872.33,287.15 872.67,287.16 873.00,287.16 873.33,287.17 873.67,287.18 874.00,287.18 874.33,287.19 874.67,287.19 875.00,287.20 875.33,287.20 875.67,287.21 876.00,287.21 876.33,287.22 876.67,287.22 877.00,287.23 877.33,287.23 877.67,287.24 878.00,287.24 878.33,287.24 878.67,287.25 879.00,287.25 879.33,287.26 879.67,287.26 880.00,287.26 880.33,287.27 880.67,287.27 881.00,287.28 881.33,287.28 881.67,287.28 882.00,287.29 882.33,287.29 882.67,287.29 883.00,287.30 883.33,287.30 883.67,287.30 884.00,287.31 884.33,287.31 884.67,287.31 885.00,287.31 885.33,287.32 885.67,287.32 886.00,287.32 886.33,287.33 886.67,287.33 887.00,287.33 887.33,287.34 887.67,287.34 888.00,287.34 888.33,287.34 888.67,287.35 889.00,287.35 889.33,287.35 889.67,287.36 890.00,287.36 890.33,287.36 890.67,287.36 891.00,287.37 891.33,287.37 891.67,287.37 892.00,287.37 892.33,287.38 892.67,287.38 893.00,287.38 893.33,287.38 893.67,287.39 894.00,287.39 894.33,287.39 894.67,287.40 895.00,287.40" fill="none" stroke="#000" stroke-width="1.15" stroke-linejoin="round"/></g>
<path d="M292.70 168.00h-1.0M292.70 181.24h-1.0M292.70 194.49h-1.0M292.70 207.73h-1.0M292.70 220.98h-1.0M292.70 234.22h-1.0M292.70 247.47h-1.0M292.70 260.71h-1.0M292.70 273.96h-1.0M292.70 287.20h-1.0M293.00 293.60v1.6M297.88 293.60v1.0M302.76 293.60v1.0M307.65 293.60v1.0M312.53 293.60v1.0M317.41 293.60v1.6M322.29 293.60v1.0M327.17 293.60v1.0M332.06 293.60v1.0M336.94 293.60v1.0M341.82 293.60v1.6M346.70 293.60v1.0M351.58 293.60v1.0M356.47 293.60v1.0M361.35 293.60v1.0M366.23 293.60v1.6M371.11 293.60v1.0M375.99 293.60v1.0M380.88 293.60v1.0M385.76 293.60v1.0M390.64 293.60v1.6M395.52 293.60v1.0M400.40 293.60v1.0M405.29 293.60v1.0M410.17 293.60v1.0M415.05 293.60v1.6M419.93 293.60v1.0M424.81 293.60v1.0M429.70 293.60v1.0M434.58 293.60v1.0M439.46 293.60v1.6M444.34 293.60v1.0M449.22 293.60v1.0M454.11 293.60v1.0M458.99 293.60v1.0M463.87 293.60v1.6M468.75 293.60v1.0M473.63 293.60v1.0M478.52 293.60v1.0M483.40 293.60v1.0M488.28 293.60v1.6M493.16 293.60v1.0M498.04 293.60v1.0M502.93 293.60v1.0M507.81 293.60v1.0M512.69 293.60v1.6M517.57 293.60v1.0M522.45 293.60v1.0M527.34 293.60v1.0M532.22 293.60v1.0M537.10 293.60v1.6" stroke="#555" stroke-width="0.7" fill="none"/>
<rect x="293.00" y="162.30" width="244.10" height="131.00" fill="none" stroke="#2e2e2e" stroke-width="1.35"/>
<text transform="translate(290.80 170.28) scale(1 1.1)" font-size="5.75" text-anchor="end" fill="#404040" stroke="#404040" stroke-width="0.08">0.108</text>
<text transform="translate(290.80 183.52) scale(1 1.1)" font-size="5.75" text-anchor="end" fill="#404040" stroke="#404040" stroke-width="0.08">0.096</text>
<text transform="translate(290.80 196.77) scale(1 1.1)" font-size="5.75" text-anchor="end" fill="#404040" stroke="#404040" stroke-width="0.08">0.084</text>
<text transform="translate(290.80 210.01) scale(1 1.1)" font-size="5.75" text-anchor="end" fill="#404040" stroke="#404040" stroke-width="0.08">0.072</text>
<text transform="translate(290.80 223.25) scale(1 1.1)" font-size="5.75" text-anchor="end" fill="#404040" stroke="#404040" stroke-width="0.08">0.060</text>
<text transform="translate(290.80 236.50) scale(1 1.1)" font-size="5.75" text-anchor="end" fill="#404040" stroke="#404040" stroke-width="0.08">0.048</text>
<text transform="translate(290.80 249.74) scale(1 1.1)" font-size="5.75" text-anchor="end" fill="#404040" stroke="#404040" stroke-width="0.08">0.036</text>
<text transform="translate(290.80 262.99) scale(1 1.1)" font-size="5.75" text-anchor="end" fill="#404040" stroke="#404040" stroke-width="0.08">0.024</text>
<text transform="translate(290.80 276.23) scale(1 1.1)" font-size="5.75" text-anchor="end" fill="#404040" stroke="#404040" stroke-width="0.08">0.012</text>
<text transform="translate(290.80 289.48) scale(1 1.1)" font-size="5.75" text-anchor="end" fill="#404040" stroke="#404040" stroke-width="0.08">0.000</text>
<text transform="translate(295.00 300.08) scale(1 1.1)" font-size="5.75" text-anchor="middle" fill="#404040" stroke="#404040" stroke-width="0.08">0.00</text>
<text transform="translate(319.50 300.08) scale(1 1.1)" font-size="5.75" text-anchor="middle" fill="#404040" stroke="#404040" stroke-width="0.08">5.00</text>
<text transform="translate(344.00 300.08) scale(1 1.1)" font-size="5.75" text-anchor="middle" fill="#404040" stroke="#404040" stroke-width="0.08">10.00</text>
<text transform="translate(368.50 300.08) scale(1 1.1)" font-size="5.75" text-anchor="middle" fill="#404040" stroke="#404040" stroke-width="0.08">15.00</text>
<text transform="translate(393.00 300.08) scale(1 1.1)" font-size="5.75" text-anchor="middle" fill="#404040" stroke="#404040" stroke-width="0.08">20.00</text>
<text transform="translate(417.50 300.08) scale(1 1.1)" font-size="5.75" text-anchor="middle" fill="#404040" stroke="#404040" stroke-width="0.08">25.00</text>
<text transform="translate(442.00 300.08) scale(1 1.1)" font-size="5.75" text-anchor="middle" fill="#404040" stroke="#404040" stroke-width="0.08">30.00</text>
<text transform="translate(466.50 300.08) scale(1 1.1)" font-size="5.75" text-anchor="middle" fill="#404040" stroke="#404040" stroke-width="0.08">35.00</text>
<text transform="translate(491.00 300.08) scale(1 1.1)" font-size="5.75" text-anchor="middle" fill="#404040" stroke="#404040" stroke-width="0.08">40.00</text>
<text transform="translate(515.50 300.08) scale(1 1.1)" font-size="5.75" text-anchor="middle" fill="#404040" stroke="#404040" stroke-width="0.08">45.00</text>
<text transform="translate(540.00 300.08) scale(1 1.1)" font-size="5.75" text-anchor="middle" fill="#404040" stroke="#404040" stroke-width="0.08">50.00</text>
<text x="419.80" y="314.10" font-size="7.80" text-anchor="middle" fill="#1a1a1a" stroke="#1a1a1a" stroke-width="0.25">Min</text>
<text transform="translate(273.00 229.70) rotate(-90)" font-size="7.30" text-anchor="middle" fill="#1a1a1a" stroke="#1a1a1a" stroke-width="0.2">AU</text>
<text transform="translate(326.60 193.70) scale(0.95 1.03)" font-size="14" fill="#111" stroke="#111" stroke-width="0.2">d</text>
<text x="361.50" y="274.00" font-size="9" fill="#111" stroke="#111" stroke-width="0.26">Man</text>
<text x="449.00" y="274.80" font-size="9" fill="#111" stroke="#111" stroke-width="0.26">Glc</text>
<text x="474.50" y="247.80" font-size="9" fill="#111" stroke="#111" stroke-width="0.26">Gal</text>
<text x="493.40" y="269.20" font-size="9" fill="#111" stroke="#111" stroke-width="0.26">Ara</text>
</svg>
</body></html>
